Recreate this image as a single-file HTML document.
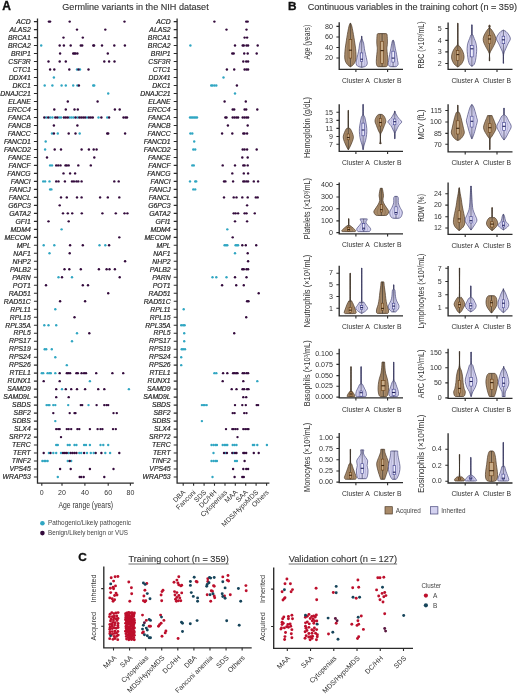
<!DOCTYPE html>
<html><head><meta charset="utf-8"><style>
html,body{margin:0;padding:0;background:#fff;width:520px;height:694px;overflow:hidden}
svg{display:block;font-family:"Liberation Sans",sans-serif}
</style></head><body>
<svg width="520" height="694" viewBox="0 0 520 694" font-family="&quot;Liberation Sans&quot;, sans-serif"><defs><filter id="bl" x="0" y="0" width="1" height="1" color-interpolation-filters="sRGB"><feGaussianBlur stdDeviation="0.3"/></filter></defs><rect width="520" height="694" fill="#fff"/><g filter="url(#bl)"><rect width="520" height="694" fill="#fff"/><text x="2.3" y="10.3" font-size="12" fill="#111" font-weight="bold" stroke="#111" stroke-width="0.35">A</text>
<text x="62.3" y="10.2" font-size="9" fill="#333" textLength="146.4" lengthAdjust="spacingAndGlyphs" stroke="#333" stroke-width="0.12">Germline variants in the NIH dataset</text>
<g stroke="#2b2b2b" stroke-width="1.3" fill="none">
<path d="M37.5,18.6V483.1H133.8"/>
<path d="M177.1,18.6V483.1H269.4"/>
<path stroke-width="1.1" d="M33.9,21.6H37.5M173.7,21.6H177.1M33.9,29.59H37.5M173.7,29.59H177.1M33.9,37.58H37.5M173.7,37.58H177.1M33.9,45.57H37.5M173.7,45.57H177.1M33.9,53.56H37.5M173.7,53.56H177.1M33.9,61.55H37.5M173.7,61.55H177.1M33.9,69.54H37.5M173.7,69.54H177.1M33.9,77.53H37.5M173.7,77.53H177.1M33.9,85.52H37.5M173.7,85.52H177.1M33.9,93.51H37.5M173.7,93.51H177.1M33.9,101.5H37.5M173.7,101.5H177.1M33.9,109.49H37.5M173.7,109.49H177.1M33.9,117.48H37.5M173.7,117.48H177.1M33.9,125.47H37.5M173.7,125.47H177.1M33.9,133.46H37.5M173.7,133.46H177.1M33.9,141.45H37.5M173.7,141.45H177.1M33.9,149.44H37.5M173.7,149.44H177.1M33.9,157.43H37.5M173.7,157.43H177.1M33.9,165.42H37.5M173.7,165.42H177.1M33.9,173.41H37.5M173.7,173.41H177.1M33.9,181.4H37.5M173.7,181.4H177.1M33.9,189.39H37.5M173.7,189.39H177.1M33.9,197.38H37.5M173.7,197.38H177.1M33.9,205.37H37.5M173.7,205.37H177.1M33.9,213.36H37.5M173.7,213.36H177.1M33.9,221.35H37.5M173.7,221.35H177.1M33.9,229.34H37.5M173.7,229.34H177.1M33.9,237.33H37.5M173.7,237.33H177.1M33.9,245.32H37.5M173.7,245.32H177.1M33.9,253.31H37.5M173.7,253.31H177.1M33.9,261.3H37.5M173.7,261.3H177.1M33.9,269.29H37.5M173.7,269.29H177.1M33.9,277.28H37.5M173.7,277.28H177.1M33.9,285.27H37.5M173.7,285.27H177.1M33.9,293.26H37.5M173.7,293.26H177.1M33.9,301.25H37.5M173.7,301.25H177.1M33.9,309.24H37.5M173.7,309.24H177.1M33.9,317.23H37.5M173.7,317.23H177.1M33.9,325.22H37.5M173.7,325.22H177.1M33.9,333.21H37.5M173.7,333.21H177.1M33.9,341.2H37.5M173.7,341.2H177.1M33.9,349.19H37.5M173.7,349.19H177.1M33.9,357.18H37.5M173.7,357.18H177.1M33.9,365.17H37.5M173.7,365.17H177.1M33.9,373.16H37.5M173.7,373.16H177.1M33.9,381.15H37.5M173.7,381.15H177.1M33.9,389.14H37.5M173.7,389.14H177.1M33.9,397.13H37.5M173.7,397.13H177.1M33.9,405.12H37.5M173.7,405.12H177.1M33.9,413.11H37.5M173.7,413.11H177.1M33.9,421.1H37.5M173.7,421.1H177.1M33.9,429.09H37.5M173.7,429.09H177.1M33.9,437.08H37.5M173.7,437.08H177.1M33.9,445.07H37.5M173.7,445.07H177.1M33.9,453.06H37.5M173.7,453.06H177.1M33.9,461.05H37.5M173.7,461.05H177.1M33.9,469.04H37.5M173.7,469.04H177.1M33.9,477.03H37.5M173.7,477.03H177.1"/>
<path stroke-width="1.1" d="M41.8,483.1v2.6M62,483.1v2.6M84.9,483.1v2.6M108.2,483.1v2.6M130.4,483.1v2.6"/>
<path stroke-width="1.1" d="M183.2,483.1v2.6M193.6,483.1v2.6M204.1,483.1v2.6M214.5,483.1v2.6M225,483.1v2.6M235.3,483.1v2.6M245.7,483.1v2.6M256.1,483.1v2.6M266.6,483.1v2.6"/>
</g>
<g transform="translate(30.7,0) scale(1.07,1)" font-style="italic" font-size="6.4" text-anchor="end" fill="#262626" stroke="#262626" stroke-width="0.18">
<text x="0" y="23.9">ACD</text>
<text x="0" y="31.89">ALAS2</text>
<text x="0" y="39.88">BRCA1</text>
<text x="0" y="47.87">BRCA2</text>
<text x="0" y="55.86">BRIP1</text>
<text x="0" y="63.85">CSF3R</text>
<text x="0" y="71.84">CTC1</text>
<text x="0" y="79.83">DDX41</text>
<text x="0" y="87.82">DKC1</text>
<text x="0" y="95.81">DNAJC21</text>
<text x="0" y="103.8">ELANE</text>
<text x="0" y="111.79">ERCC4</text>
<text x="0" y="119.78">FANCA</text>
<text x="0" y="127.77">FANCB</text>
<text x="0" y="135.76">FANCC</text>
<text x="0" y="143.75">FANCD1</text>
<text x="0" y="151.74">FANCD2</text>
<text x="0" y="159.73">FANCE</text>
<text x="0" y="167.72">FANCF</text>
<text x="0" y="175.71">FANCG</text>
<text x="0" y="183.7">FANCI</text>
<text x="0" y="191.69">FANCJ</text>
<text x="0" y="199.68">FANCL</text>
<text x="0" y="207.67">G6PC3</text>
<text x="0" y="215.66">GATA2</text>
<text x="0" y="223.65">GFI1</text>
<text x="0" y="231.64">MDM4</text>
<text x="0" y="239.63">MECOM</text>
<text x="0" y="247.62">MPL</text>
<text x="0" y="255.61">NAF1</text>
<text x="0" y="263.6">NHP2</text>
<text x="0" y="271.59">PALB2</text>
<text x="0" y="279.58">PARN</text>
<text x="0" y="287.57">POT1</text>
<text x="0" y="295.56">RAD51</text>
<text x="0" y="303.55">RAD51C</text>
<text x="0" y="311.54">RPL11</text>
<text x="0" y="319.53">RPL15</text>
<text x="0" y="327.52">RPL35A</text>
<text x="0" y="335.51">RPL5</text>
<text x="0" y="343.5">RPS17</text>
<text x="0" y="351.49">RPS19</text>
<text x="0" y="359.48">RPS24</text>
<text x="0" y="367.47">RPS26</text>
<text x="0" y="375.46">RTEL1</text>
<text x="0" y="383.45">RUNX1</text>
<text x="0" y="391.44">SAMD9</text>
<text x="0" y="399.43">SAMD9L</text>
<text x="0" y="407.42">SBDS</text>
<text x="0" y="415.41">SBF2</text>
<text x="0" y="423.4">SDBS</text>
<text x="0" y="431.39">SLX4</text>
<text x="0" y="439.38">SRP72</text>
<text x="0" y="447.37">TERC</text>
<text x="0" y="455.36">TERT</text>
<text x="0" y="463.35">TINF2</text>
<text x="0" y="471.34">VPS45</text>
<text x="0" y="479.33">WRAP53</text>
</g>
<g transform="translate(170.6,0) scale(1.07,1)" font-style="italic" font-size="6.4" text-anchor="end" fill="#262626" stroke="#262626" stroke-width="0.18">
<text x="0" y="23.9">ACD</text>
<text x="0" y="31.89">ALAS2</text>
<text x="0" y="39.88">BRCA1</text>
<text x="0" y="47.87">BRCA2</text>
<text x="0" y="55.86">BRIP1</text>
<text x="0" y="63.85">CSF3R</text>
<text x="0" y="71.84">CTC1</text>
<text x="0" y="79.83">DDX41</text>
<text x="0" y="87.82">DKC1</text>
<text x="0" y="95.81">DNAJC21</text>
<text x="0" y="103.8">ELANE</text>
<text x="0" y="111.79">ERCC4</text>
<text x="0" y="119.78">FANCA</text>
<text x="0" y="127.77">FANCB</text>
<text x="0" y="135.76">FANCC</text>
<text x="0" y="143.75">FANCD1</text>
<text x="0" y="151.74">FANCD2</text>
<text x="0" y="159.73">FANCE</text>
<text x="0" y="167.72">FANCF</text>
<text x="0" y="175.71">FANCG</text>
<text x="0" y="183.7">FANCI</text>
<text x="0" y="191.69">FANCJ</text>
<text x="0" y="199.68">FANCL</text>
<text x="0" y="207.67">G6PC3</text>
<text x="0" y="215.66">GATA2</text>
<text x="0" y="223.65">GFI1</text>
<text x="0" y="231.64">MDM4</text>
<text x="0" y="239.63">MECOM</text>
<text x="0" y="247.62">MPL</text>
<text x="0" y="255.61">NAF1</text>
<text x="0" y="263.6">NHP2</text>
<text x="0" y="271.59">PALB2</text>
<text x="0" y="279.58">PARN</text>
<text x="0" y="287.57">POT1</text>
<text x="0" y="295.56">RAD51</text>
<text x="0" y="303.55">RAD51C</text>
<text x="0" y="311.54">RPL11</text>
<text x="0" y="319.53">RPL15</text>
<text x="0" y="327.52">RPL35A</text>
<text x="0" y="335.51">RPL5</text>
<text x="0" y="343.5">RPS17</text>
<text x="0" y="351.49">RPS19</text>
<text x="0" y="359.48">RPS24</text>
<text x="0" y="367.47">RPS26</text>
<text x="0" y="375.46">RTEL1</text>
<text x="0" y="383.45">RUNX1</text>
<text x="0" y="391.44">SAMD9</text>
<text x="0" y="399.43">SAMD9L</text>
<text x="0" y="407.42">SBDS</text>
<text x="0" y="415.41">SBF2</text>
<text x="0" y="423.4">SDBS</text>
<text x="0" y="431.39">SLX4</text>
<text x="0" y="439.38">SRP72</text>
<text x="0" y="447.37">TERC</text>
<text x="0" y="455.36">TERT</text>
<text x="0" y="463.35">TINF2</text>
<text x="0" y="471.34">VPS45</text>
<text x="0" y="479.33">WRAP53</text>
</g>
<g font-size="7" fill="#333" text-anchor="middle">
<text x="41.8" y="495">0</text>
<text x="62" y="495">20</text>
<text x="84.9" y="495">40</text>
<text x="108.2" y="495">60</text>
<text x="130.4" y="495">80</text>
</g>
<text x="58.5" y="508.2" font-size="8.8" fill="#333" textLength="54.6" lengthAdjust="spacingAndGlyphs">Age range (years)</text>
<g font-size="6.9" fill="#2e2e2e" text-anchor="end">
<text transform="translate(185.8,492.8) rotate(-45)">DBA</text>
<text transform="translate(196.2,492.8) rotate(-45)">Fanconi</text>
<text transform="translate(206.7,492.8) rotate(-45)">SDS</text>
<text transform="translate(217.1,492.8) rotate(-45)">DC/HH</text>
<text transform="translate(227.6,492.8) rotate(-45)">Cytopenias</text>
<text transform="translate(237.9,492.8) rotate(-45)">MAA</text>
<text transform="translate(248.3,492.8) rotate(-45)">SAA</text>
<text transform="translate(258.7,492.8) rotate(-45)">MDS/HypoMDS</text>
<text transform="translate(269.2,492.8) rotate(-45)">Others</text>
</g>
<g fill="#30a6c2"><circle cx="41.2" cy="45.57" r="1.2"/><circle cx="77" cy="69.54" r="1.2"/><circle cx="80" cy="69.54" r="1.2"/><circle cx="53.9" cy="77.53" r="1.2"/><circle cx="44.7" cy="85.52" r="1.2"/><circle cx="52.4" cy="85.52" r="1.2"/><circle cx="61.6" cy="85.52" r="1.2"/><circle cx="65.8" cy="85.52" r="1.2"/><circle cx="73.2" cy="85.52" r="1.2"/><circle cx="77.4" cy="85.52" r="1.2"/><circle cx="93.2" cy="85.52" r="1.2"/><circle cx="94.2" cy="85.52" r="1.2"/><circle cx="108.2" cy="93.51" r="1.2"/><circle cx="46.2" cy="117.48" r="1.2"/><circle cx="50.1" cy="117.48" r="1.2"/><circle cx="52.4" cy="117.48" r="1.2"/><circle cx="59.1" cy="117.48" r="1.2"/><circle cx="61" cy="117.48" r="1.2"/><circle cx="69.7" cy="117.48" r="1.2"/><circle cx="71.6" cy="117.48" r="1.2"/><circle cx="73.5" cy="117.48" r="1.2"/><circle cx="77.4" cy="117.48" r="1.2"/><circle cx="87" cy="117.48" r="1.2"/><circle cx="98.5" cy="117.48" r="1.2"/><circle cx="107.2" cy="117.48" r="1.2"/><circle cx="52" cy="133.46" r="1.2"/><circle cx="57.8" cy="133.46" r="1.2"/><circle cx="79.7" cy="133.46" r="1.2"/><circle cx="45.7" cy="141.45" r="1.2"/><circle cx="45.1" cy="149.44" r="1.2"/><circle cx="50.1" cy="165.42" r="1.2"/><circle cx="52" cy="165.42" r="1.2"/><circle cx="43.2" cy="181.4" r="1.2"/><circle cx="45.1" cy="181.4" r="1.2"/><circle cx="49.5" cy="181.4" r="1.2"/><circle cx="50.1" cy="189.39" r="1.2"/><circle cx="51.4" cy="189.39" r="1.2"/><circle cx="61.6" cy="229.34" r="1.2"/><circle cx="43.7" cy="245.32" r="1.2"/><circle cx="54.3" cy="245.32" r="1.2"/><circle cx="99.5" cy="245.32" r="1.2"/><circle cx="105.3" cy="245.32" r="1.2"/><circle cx="49.5" cy="253.31" r="1.2"/><circle cx="58.5" cy="277.28" r="1.2"/><circle cx="72" cy="277.28" r="1.2"/><circle cx="55.3" cy="309.24" r="1.2"/><circle cx="44.3" cy="325.22" r="1.2"/><circle cx="48.5" cy="325.22" r="1.2"/><circle cx="56.2" cy="325.22" r="1.2"/><circle cx="77" cy="333.21" r="1.2"/><circle cx="72" cy="341.2" r="1.2"/><circle cx="44.7" cy="349.19" r="1.2"/><circle cx="46.2" cy="349.19" r="1.2"/><circle cx="51.8" cy="349.19" r="1.2"/><circle cx="55.3" cy="357.18" r="1.2"/><circle cx="66.8" cy="365.17" r="1.2"/><circle cx="41.8" cy="373.16" r="1.2"/><circle cx="43.2" cy="373.16" r="1.2"/><circle cx="47.6" cy="373.16" r="1.2"/><circle cx="49.5" cy="373.16" r="1.2"/><circle cx="50.8" cy="373.16" r="1.2"/><circle cx="55.3" cy="373.16" r="1.2"/><circle cx="89.9" cy="381.15" r="1.2"/><circle cx="62" cy="389.14" r="1.2"/><circle cx="128.9" cy="389.14" r="1.2"/><circle cx="46.6" cy="405.12" r="1.2"/><circle cx="48.2" cy="405.12" r="1.2"/><circle cx="49.5" cy="405.12" r="1.2"/><circle cx="53.3" cy="405.12" r="1.2"/><circle cx="55.3" cy="405.12" r="1.2"/><circle cx="68.2" cy="405.12" r="1.2"/><circle cx="88.5" cy="405.12" r="1.2"/><circle cx="55.3" cy="421.1" r="1.2"/><circle cx="56.2" cy="445.07" r="1.2"/><circle cx="57.8" cy="445.07" r="1.2"/><circle cx="67.8" cy="445.07" r="1.2"/><circle cx="69.7" cy="445.07" r="1.2"/><circle cx="74.5" cy="445.07" r="1.2"/><circle cx="76.4" cy="445.07" r="1.2"/><circle cx="84.1" cy="445.07" r="1.2"/><circle cx="86" cy="445.07" r="1.2"/><circle cx="89.9" cy="445.07" r="1.2"/><circle cx="100.5" cy="445.07" r="1.2"/><circle cx="103.3" cy="445.07" r="1.2"/><circle cx="108.2" cy="445.07" r="1.2"/><circle cx="48.9" cy="453.06" r="1.2"/><circle cx="53.3" cy="453.06" r="1.2"/><circle cx="56.2" cy="453.06" r="1.2"/><circle cx="61" cy="453.06" r="1.2"/><circle cx="68.7" cy="453.06" r="1.2"/><circle cx="79.3" cy="453.06" r="1.2"/><circle cx="81.2" cy="453.06" r="1.2"/><circle cx="87" cy="453.06" r="1.2"/><circle cx="90.8" cy="453.06" r="1.2"/><circle cx="93.7" cy="453.06" r="1.2"/><circle cx="105.3" cy="453.06" r="1.2"/><circle cx="110.1" cy="453.06" r="1.2"/><circle cx="42.4" cy="461.05" r="1.2"/><circle cx="44.3" cy="461.05" r="1.2"/><circle cx="45.7" cy="461.05" r="1.2"/><circle cx="47.6" cy="461.05" r="1.2"/><circle cx="67.8" cy="461.05" r="1.2"/><circle cx="71.2" cy="461.05" r="1.2"/><circle cx="57.8" cy="477.03" r="1.2"/></g>
<g fill="#330a3c"><circle cx="48.9" cy="21.6" r="1.2"/><circle cx="50.1" cy="21.6" r="1.2"/><circle cx="69.7" cy="21.6" r="1.2"/><circle cx="124.5" cy="21.6" r="1.2"/><circle cx="77" cy="29.59" r="1.2"/><circle cx="105.3" cy="29.59" r="1.2"/><circle cx="63.5" cy="37.58" r="1.2"/><circle cx="82.8" cy="37.58" r="1.2"/><circle cx="59.7" cy="45.57" r="1.2"/><circle cx="63.9" cy="45.57" r="1.2"/><circle cx="70.7" cy="45.57" r="1.2"/><circle cx="80.8" cy="45.57" r="1.2"/><circle cx="82.2" cy="45.57" r="1.2"/><circle cx="93.3" cy="45.57" r="1.2"/><circle cx="94.1" cy="45.57" r="1.2"/><circle cx="102" cy="45.57" r="1.2"/><circle cx="114.3" cy="45.57" r="1.2"/><circle cx="124.9" cy="45.57" r="1.2"/><circle cx="60.1" cy="53.56" r="1.2"/><circle cx="73.2" cy="53.56" r="1.2"/><circle cx="74.4" cy="53.56" r="1.2"/><circle cx="75.5" cy="53.56" r="1.2"/><circle cx="77.4" cy="53.56" r="1.2"/><circle cx="107.8" cy="53.56" r="1.2"/><circle cx="48.5" cy="61.55" r="1.2"/><circle cx="59.7" cy="61.55" r="1.2"/><circle cx="65.8" cy="61.55" r="1.2"/><circle cx="104.3" cy="61.55" r="1.2"/><circle cx="109.1" cy="61.55" r="1.2"/><circle cx="114.5" cy="61.55" r="1.2"/><circle cx="50.1" cy="69.54" r="1.2"/><circle cx="54.3" cy="69.54" r="1.2"/><circle cx="69.3" cy="69.54" r="1.2"/><circle cx="78.5" cy="69.54" r="1.2"/><circle cx="88.5" cy="69.54" r="1.2"/><circle cx="78.9" cy="85.52" r="1.2"/><circle cx="67.8" cy="101.5" r="1.2"/><circle cx="97.6" cy="101.5" r="1.2"/><circle cx="54.3" cy="109.49" r="1.2"/><circle cx="65.8" cy="109.49" r="1.2"/><circle cx="74.5" cy="109.49" r="1.2"/><circle cx="77.8" cy="109.49" r="1.2"/><circle cx="114.9" cy="109.49" r="1.2"/><circle cx="119.7" cy="109.49" r="1.2"/><circle cx="44.3" cy="117.48" r="1.2"/><circle cx="48.2" cy="117.48" r="1.2"/><circle cx="55.3" cy="117.48" r="1.2"/><circle cx="57.2" cy="117.48" r="1.2"/><circle cx="63.9" cy="117.48" r="1.2"/><circle cx="65.8" cy="117.48" r="1.2"/><circle cx="67.8" cy="117.48" r="1.2"/><circle cx="75.5" cy="117.48" r="1.2"/><circle cx="79.3" cy="117.48" r="1.2"/><circle cx="81.2" cy="117.48" r="1.2"/><circle cx="83.2" cy="117.48" r="1.2"/><circle cx="85.1" cy="117.48" r="1.2"/><circle cx="88.9" cy="117.48" r="1.2"/><circle cx="90.8" cy="117.48" r="1.2"/><circle cx="92.8" cy="117.48" r="1.2"/><circle cx="101.4" cy="117.48" r="1.2"/><circle cx="109.1" cy="117.48" r="1.2"/><circle cx="123.5" cy="117.48" r="1.2"/><circle cx="125.5" cy="117.48" r="1.2"/><circle cx="127" cy="117.48" r="1.2"/><circle cx="53.9" cy="125.47" r="1.2"/><circle cx="77.4" cy="125.47" r="1.2"/><circle cx="53.9" cy="133.46" r="1.2"/><circle cx="68.7" cy="133.46" r="1.2"/><circle cx="75.5" cy="133.46" r="1.2"/><circle cx="107.2" cy="133.46" r="1.2"/><circle cx="108.2" cy="133.46" r="1.2"/><circle cx="125.1" cy="133.46" r="1.2"/><circle cx="54.7" cy="149.44" r="1.2"/><circle cx="61" cy="149.44" r="1.2"/><circle cx="81.6" cy="149.44" r="1.2"/><circle cx="88.9" cy="149.44" r="1.2"/><circle cx="93.7" cy="149.44" r="1.2"/><circle cx="96.6" cy="149.44" r="1.2"/><circle cx="47" cy="157.43" r="1.2"/><circle cx="94.3" cy="157.43" r="1.2"/><circle cx="56.2" cy="165.42" r="1.2"/><circle cx="58.2" cy="165.42" r="1.2"/><circle cx="60.5" cy="165.42" r="1.2"/><circle cx="65.5" cy="165.42" r="1.2"/><circle cx="66.8" cy="165.42" r="1.2"/><circle cx="68.7" cy="165.42" r="1.2"/><circle cx="78.3" cy="165.42" r="1.2"/><circle cx="90.8" cy="165.42" r="1.2"/><circle cx="63.5" cy="173.41" r="1.2"/><circle cx="70.1" cy="173.41" r="1.2"/><circle cx="75.1" cy="173.41" r="1.2"/><circle cx="56.2" cy="181.4" r="1.2"/><circle cx="58.5" cy="181.4" r="1.2"/><circle cx="64.9" cy="181.4" r="1.2"/><circle cx="72" cy="181.4" r="1.2"/><circle cx="73.9" cy="181.4" r="1.2"/><circle cx="76.4" cy="181.4" r="1.2"/><circle cx="78.3" cy="181.4" r="1.2"/><circle cx="81.6" cy="181.4" r="1.2"/><circle cx="114.3" cy="181.4" r="1.2"/><circle cx="118.7" cy="181.4" r="1.2"/><circle cx="61" cy="197.38" r="1.2"/><circle cx="66.8" cy="197.38" r="1.2"/><circle cx="77" cy="197.38" r="1.2"/><circle cx="81.6" cy="197.38" r="1.2"/><circle cx="100.1" cy="197.38" r="1.2"/><circle cx="107.8" cy="197.38" r="1.2"/><circle cx="119.3" cy="197.38" r="1.2"/><circle cx="59.7" cy="205.37" r="1.2"/><circle cx="63" cy="213.36" r="1.2"/><circle cx="67.8" cy="213.36" r="1.2"/><circle cx="72.2" cy="213.36" r="1.2"/><circle cx="81.8" cy="213.36" r="1.2"/><circle cx="102.4" cy="213.36" r="1.2"/><circle cx="115.8" cy="213.36" r="1.2"/><circle cx="124.5" cy="213.36" r="1.2"/><circle cx="127.4" cy="213.36" r="1.2"/><circle cx="48.5" cy="221.35" r="1.2"/><circle cx="68.7" cy="221.35" r="1.2"/><circle cx="119.3" cy="237.33" r="1.2"/><circle cx="70.1" cy="245.32" r="1.2"/><circle cx="82.8" cy="245.32" r="1.2"/><circle cx="109.1" cy="245.32" r="1.2"/><circle cx="69.7" cy="253.31" r="1.2"/><circle cx="125.1" cy="261.3" r="1.2"/><circle cx="64.5" cy="269.29" r="1.2"/><circle cx="69.3" cy="269.29" r="1.2"/><circle cx="80.8" cy="269.29" r="1.2"/><circle cx="98.9" cy="269.29" r="1.2"/><circle cx="106.6" cy="269.29" r="1.2"/><circle cx="109.5" cy="269.29" r="1.2"/><circle cx="114.9" cy="269.29" r="1.2"/><circle cx="62" cy="277.28" r="1.2"/><circle cx="119.7" cy="277.28" r="1.2"/><circle cx="46" cy="285.27" r="1.2"/><circle cx="82.8" cy="285.27" r="1.2"/><circle cx="88" cy="285.27" r="1.2"/><circle cx="108.2" cy="293.26" r="1.2"/><circle cx="60.1" cy="301.25" r="1.2"/><circle cx="85.1" cy="301.25" r="1.2"/><circle cx="74.5" cy="317.23" r="1.2"/><circle cx="89.3" cy="333.21" r="1.2"/><circle cx="59.7" cy="373.16" r="1.2"/><circle cx="66.8" cy="373.16" r="1.2"/><circle cx="68.2" cy="373.16" r="1.2"/><circle cx="70.1" cy="373.16" r="1.2"/><circle cx="76.4" cy="373.16" r="1.2"/><circle cx="77.8" cy="373.16" r="1.2"/><circle cx="81.6" cy="373.16" r="1.2"/><circle cx="84.1" cy="373.16" r="1.2"/><circle cx="86" cy="373.16" r="1.2"/><circle cx="96.2" cy="373.16" r="1.2"/><circle cx="112.4" cy="373.16" r="1.2"/><circle cx="123.2" cy="373.16" r="1.2"/><circle cx="43.7" cy="381.15" r="1.2"/><circle cx="59.7" cy="381.15" r="1.2"/><circle cx="56.2" cy="389.14" r="1.2"/><circle cx="65.8" cy="389.14" r="1.2"/><circle cx="71.2" cy="389.14" r="1.2"/><circle cx="77" cy="389.14" r="1.2"/><circle cx="85.1" cy="389.14" r="1.2"/><circle cx="98.2" cy="389.14" r="1.2"/><circle cx="104.3" cy="389.14" r="1.2"/><circle cx="56.2" cy="397.13" r="1.2"/><circle cx="68.7" cy="397.13" r="1.2"/><circle cx="80.8" cy="405.12" r="1.2"/><circle cx="82.2" cy="405.12" r="1.2"/><circle cx="96.6" cy="405.12" r="1.2"/><circle cx="104.3" cy="405.12" r="1.2"/><circle cx="106.6" cy="405.12" r="1.2"/><circle cx="108.2" cy="405.12" r="1.2"/><circle cx="53.3" cy="413.11" r="1.2"/><circle cx="69.7" cy="413.11" r="1.2"/><circle cx="74.5" cy="413.11" r="1.2"/><circle cx="75.5" cy="413.11" r="1.2"/><circle cx="113.5" cy="413.11" r="1.2"/><circle cx="116.8" cy="413.11" r="1.2"/><circle cx="56.2" cy="429.09" r="1.2"/><circle cx="58.2" cy="429.09" r="1.2"/><circle cx="59.7" cy="429.09" r="1.2"/><circle cx="66.8" cy="429.09" r="1.2"/><circle cx="68.7" cy="429.09" r="1.2"/><circle cx="71.2" cy="429.09" r="1.2"/><circle cx="77.4" cy="429.09" r="1.2"/><circle cx="79.3" cy="429.09" r="1.2"/><circle cx="89.9" cy="429.09" r="1.2"/><circle cx="97.6" cy="429.09" r="1.2"/><circle cx="100.5" cy="429.09" r="1.2"/><circle cx="102.4" cy="429.09" r="1.2"/><circle cx="113" cy="429.09" r="1.2"/><circle cx="115.8" cy="429.09" r="1.2"/><circle cx="61" cy="437.08" r="1.2"/><circle cx="43.7" cy="453.06" r="1.2"/><circle cx="50.5" cy="453.06" r="1.2"/><circle cx="63" cy="453.06" r="1.2"/><circle cx="64.9" cy="453.06" r="1.2"/><circle cx="66.8" cy="453.06" r="1.2"/><circle cx="70.7" cy="453.06" r="1.2"/><circle cx="72.6" cy="453.06" r="1.2"/><circle cx="74.5" cy="453.06" r="1.2"/><circle cx="76.4" cy="453.06" r="1.2"/><circle cx="84.1" cy="453.06" r="1.2"/><circle cx="95.7" cy="453.06" r="1.2"/><circle cx="101.4" cy="453.06" r="1.2"/><circle cx="119.3" cy="453.06" r="1.2"/><circle cx="69.7" cy="461.05" r="1.2"/><circle cx="60.1" cy="469.04" r="1.2"/><circle cx="70.7" cy="469.04" r="1.2"/><circle cx="89.9" cy="469.04" r="1.2"/><circle cx="113.5" cy="469.04" r="1.2"/><circle cx="79.7" cy="477.03" r="1.2"/><circle cx="81.2" cy="477.03" r="1.2"/><circle cx="83.7" cy="477.03" r="1.2"/><circle cx="104.3" cy="477.03" r="1.2"/></g>
<g fill="#30a6c2"><circle cx="190.4" cy="45.57" r="1.2"/><circle cx="223.5" cy="77.53" r="1.2"/><circle cx="211.2" cy="85.52" r="1.2"/><circle cx="212.5" cy="85.52" r="1.2"/><circle cx="214.4" cy="85.52" r="1.2"/><circle cx="216.3" cy="85.52" r="1.2"/><circle cx="235" cy="93.51" r="1.2"/><circle cx="190" cy="117.48" r="1.2"/><circle cx="191.4" cy="117.48" r="1.2"/><circle cx="192.8" cy="117.48" r="1.2"/><circle cx="194.2" cy="117.48" r="1.2"/><circle cx="195.6" cy="117.48" r="1.2"/><circle cx="197" cy="117.48" r="1.2"/><circle cx="190.4" cy="133.46" r="1.2"/><circle cx="192.3" cy="133.46" r="1.2"/><circle cx="194.2" cy="141.45" r="1.2"/><circle cx="193.3" cy="149.44" r="1.2"/><circle cx="195.2" cy="149.44" r="1.2"/><circle cx="192.3" cy="165.42" r="1.2"/><circle cx="193.8" cy="165.42" r="1.2"/><circle cx="190" cy="181.4" r="1.2"/><circle cx="195.2" cy="181.4" r="1.2"/><circle cx="196.2" cy="181.4" r="1.2"/><circle cx="193.3" cy="189.39" r="1.2"/><circle cx="195.2" cy="189.39" r="1.2"/><circle cx="227.3" cy="229.34" r="1.2"/><circle cx="224.6" cy="245.32" r="1.2"/><circle cx="226" cy="245.32" r="1.2"/><circle cx="227.3" cy="245.32" r="1.2"/><circle cx="235.6" cy="245.32" r="1.2"/><circle cx="236.9" cy="245.32" r="1.2"/><circle cx="238.1" cy="245.32" r="1.2"/><circle cx="235" cy="253.31" r="1.2"/><circle cx="212.5" cy="277.28" r="1.2"/><circle cx="216.3" cy="277.28" r="1.2"/><circle cx="226.5" cy="277.28" r="1.2"/><circle cx="183.7" cy="309.24" r="1.2"/><circle cx="181.2" cy="325.22" r="1.2"/><circle cx="183.1" cy="325.22" r="1.2"/><circle cx="184.6" cy="325.22" r="1.2"/><circle cx="184.2" cy="333.21" r="1.2"/><circle cx="184.2" cy="341.2" r="1.2"/><circle cx="181.7" cy="349.19" r="1.2"/><circle cx="183.1" cy="349.19" r="1.2"/><circle cx="185" cy="349.19" r="1.2"/><circle cx="181.2" cy="357.18" r="1.2"/><circle cx="181.2" cy="365.17" r="1.2"/><circle cx="214.4" cy="373.16" r="1.2"/><circle cx="216.3" cy="373.16" r="1.2"/><circle cx="257.3" cy="381.15" r="1.2"/><circle cx="201.9" cy="405.12" r="1.2"/><circle cx="203.5" cy="405.12" r="1.2"/><circle cx="204.8" cy="405.12" r="1.2"/><circle cx="206.7" cy="405.12" r="1.2"/><circle cx="201.9" cy="421.1" r="1.2"/><circle cx="211.5" cy="445.07" r="1.2"/><circle cx="213.5" cy="445.07" r="1.2"/><circle cx="215.4" cy="445.07" r="1.2"/><circle cx="216.9" cy="445.07" r="1.2"/><circle cx="222.7" cy="445.07" r="1.2"/><circle cx="224.6" cy="445.07" r="1.2"/><circle cx="226" cy="445.07" r="1.2"/><circle cx="227.3" cy="445.07" r="1.2"/><circle cx="232.7" cy="445.07" r="1.2"/><circle cx="234.6" cy="445.07" r="1.2"/><circle cx="236.5" cy="445.07" r="1.2"/><circle cx="252.9" cy="445.07" r="1.2"/><circle cx="254.2" cy="445.07" r="1.2"/><circle cx="257.3" cy="445.07" r="1.2"/><circle cx="266.9" cy="445.07" r="1.2"/><circle cx="213.5" cy="453.06" r="1.2"/><circle cx="225.4" cy="453.06" r="1.2"/><circle cx="233.7" cy="453.06" r="1.2"/><circle cx="211.5" cy="461.05" r="1.2"/><circle cx="213.5" cy="461.05" r="1.2"/><circle cx="215.4" cy="461.05" r="1.2"/><circle cx="216.9" cy="461.05" r="1.2"/><circle cx="235" cy="461.05" r="1.2"/><circle cx="236.9" cy="461.05" r="1.2"/><circle cx="212.5" cy="477.03" r="1.2"/></g>
<g fill="#330a3c"><circle cx="214.4" cy="21.6" r="1.2"/><circle cx="246.2" cy="21.6" r="1.2"/><circle cx="247.7" cy="21.6" r="1.2"/><circle cx="226.5" cy="29.59" r="1.2"/><circle cx="246.5" cy="29.59" r="1.2"/><circle cx="244.6" cy="37.58" r="1.2"/><circle cx="247.1" cy="37.58" r="1.2"/><circle cx="235" cy="45.57" r="1.2"/><circle cx="242.7" cy="45.57" r="1.2"/><circle cx="243.8" cy="45.57" r="1.2"/><circle cx="246.5" cy="45.57" r="1.2"/><circle cx="248.1" cy="45.57" r="1.2"/><circle cx="257.7" cy="45.57" r="1.2"/><circle cx="232.3" cy="53.56" r="1.2"/><circle cx="233.7" cy="53.56" r="1.2"/><circle cx="244.2" cy="53.56" r="1.2"/><circle cx="247.7" cy="53.56" r="1.2"/><circle cx="256.7" cy="53.56" r="1.2"/><circle cx="243.3" cy="61.55" r="1.2"/><circle cx="246.2" cy="61.55" r="1.2"/><circle cx="248.1" cy="61.55" r="1.2"/><circle cx="226.9" cy="69.54" r="1.2"/><circle cx="234.2" cy="69.54" r="1.2"/><circle cx="244.6" cy="69.54" r="1.2"/><circle cx="246.5" cy="69.54" r="1.2"/><circle cx="248.1" cy="69.54" r="1.2"/><circle cx="236.9" cy="85.52" r="1.2"/><circle cx="224.6" cy="101.5" r="1.2"/><circle cx="245.8" cy="101.5" r="1.2"/><circle cx="232.7" cy="109.49" r="1.2"/><circle cx="234.2" cy="109.49" r="1.2"/><circle cx="244.6" cy="109.49" r="1.2"/><circle cx="246.2" cy="109.49" r="1.2"/><circle cx="257.3" cy="109.49" r="1.2"/><circle cx="225.4" cy="117.48" r="1.2"/><circle cx="226.5" cy="117.48" r="1.2"/><circle cx="232.7" cy="117.48" r="1.2"/><circle cx="234.6" cy="117.48" r="1.2"/><circle cx="236.5" cy="117.48" r="1.2"/><circle cx="238.1" cy="117.48" r="1.2"/><circle cx="242.7" cy="117.48" r="1.2"/><circle cx="244.6" cy="117.48" r="1.2"/><circle cx="246.5" cy="117.48" r="1.2"/><circle cx="248.1" cy="117.48" r="1.2"/><circle cx="227.9" cy="125.47" r="1.2"/><circle cx="247.7" cy="125.47" r="1.2"/><circle cx="222.1" cy="133.46" r="1.2"/><circle cx="232.3" cy="133.46" r="1.2"/><circle cx="243.3" cy="133.46" r="1.2"/><circle cx="244.6" cy="133.46" r="1.2"/><circle cx="247.1" cy="133.46" r="1.2"/><circle cx="242.7" cy="149.44" r="1.2"/><circle cx="244.6" cy="149.44" r="1.2"/><circle cx="247.1" cy="149.44" r="1.2"/><circle cx="256.7" cy="149.44" r="1.2"/><circle cx="242.3" cy="157.43" r="1.2"/><circle cx="247.7" cy="157.43" r="1.2"/><circle cx="222.7" cy="165.42" r="1.2"/><circle cx="235" cy="165.42" r="1.2"/><circle cx="243.3" cy="165.42" r="1.2"/><circle cx="244.6" cy="165.42" r="1.2"/><circle cx="247.7" cy="165.42" r="1.2"/><circle cx="232.3" cy="173.41" r="1.2"/><circle cx="243.8" cy="173.41" r="1.2"/><circle cx="248.1" cy="173.41" r="1.2"/><circle cx="224" cy="181.4" r="1.2"/><circle cx="225.4" cy="181.4" r="1.2"/><circle cx="233.1" cy="181.4" r="1.2"/><circle cx="243.3" cy="181.4" r="1.2"/><circle cx="244.6" cy="181.4" r="1.2"/><circle cx="246.5" cy="181.4" r="1.2"/><circle cx="248.1" cy="181.4" r="1.2"/><circle cx="253.8" cy="181.4" r="1.2"/><circle cx="258.1" cy="181.4" r="1.2"/><circle cx="224" cy="197.38" r="1.2"/><circle cx="233.7" cy="197.38" r="1.2"/><circle cx="236.5" cy="197.38" r="1.2"/><circle cx="242.3" cy="197.38" r="1.2"/><circle cx="247.7" cy="197.38" r="1.2"/><circle cx="255.8" cy="197.38" r="1.2"/><circle cx="257.7" cy="197.38" r="1.2"/><circle cx="247.1" cy="205.37" r="1.2"/><circle cx="233.7" cy="213.36" r="1.2"/><circle cx="235.6" cy="213.36" r="1.2"/><circle cx="238.1" cy="213.36" r="1.2"/><circle cx="244.6" cy="213.36" r="1.2"/><circle cx="246.5" cy="213.36" r="1.2"/><circle cx="254.8" cy="213.36" r="1.2"/><circle cx="235" cy="221.35" r="1.2"/><circle cx="247.1" cy="221.35" r="1.2"/><circle cx="232.7" cy="237.33" r="1.2"/><circle cx="242.3" cy="245.32" r="1.2"/><circle cx="245.8" cy="245.32" r="1.2"/><circle cx="256.2" cy="245.32" r="1.2"/><circle cx="247.7" cy="253.31" r="1.2"/><circle cx="248.1" cy="261.3" r="1.2"/><circle cx="242.3" cy="269.29" r="1.2"/><circle cx="243.8" cy="269.29" r="1.2"/><circle cx="246.5" cy="269.29" r="1.2"/><circle cx="248.1" cy="269.29" r="1.2"/><circle cx="235" cy="277.28" r="1.2"/><circle cx="246.5" cy="277.28" r="1.2"/><circle cx="222.1" cy="285.27" r="1.2"/><circle cx="236.2" cy="285.27" r="1.2"/><circle cx="243.8" cy="285.27" r="1.2"/><circle cx="258.7" cy="293.26" r="1.2"/><circle cx="247.1" cy="301.25" r="1.2"/><circle cx="248.5" cy="301.25" r="1.2"/><circle cx="246.2" cy="317.23" r="1.2"/><circle cx="234.2" cy="333.21" r="1.2"/><circle cx="223.1" cy="373.16" r="1.2"/><circle cx="227.3" cy="373.16" r="1.2"/><circle cx="233.1" cy="373.16" r="1.2"/><circle cx="234.6" cy="373.16" r="1.2"/><circle cx="236.2" cy="373.16" r="1.2"/><circle cx="237.5" cy="373.16" r="1.2"/><circle cx="242.7" cy="373.16" r="1.2"/><circle cx="244.2" cy="373.16" r="1.2"/><circle cx="246.5" cy="373.16" r="1.2"/><circle cx="248.1" cy="373.16" r="1.2"/><circle cx="222.7" cy="381.15" r="1.2"/><circle cx="243.3" cy="381.15" r="1.2"/><circle cx="231.7" cy="389.14" r="1.2"/><circle cx="236.5" cy="389.14" r="1.2"/><circle cx="242.7" cy="389.14" r="1.2"/><circle cx="244.2" cy="389.14" r="1.2"/><circle cx="247.1" cy="389.14" r="1.2"/><circle cx="248.5" cy="389.14" r="1.2"/><circle cx="243.3" cy="397.13" r="1.2"/><circle cx="246.2" cy="397.13" r="1.2"/><circle cx="235" cy="405.12" r="1.2"/><circle cx="242.3" cy="405.12" r="1.2"/><circle cx="245.8" cy="405.12" r="1.2"/><circle cx="256.7" cy="405.12" r="1.2"/><circle cx="258.1" cy="405.12" r="1.2"/><circle cx="232.7" cy="413.11" r="1.2"/><circle cx="234.6" cy="413.11" r="1.2"/><circle cx="244.2" cy="413.11" r="1.2"/><circle cx="246.5" cy="413.11" r="1.2"/><circle cx="226" cy="429.09" r="1.2"/><circle cx="232.3" cy="429.09" r="1.2"/><circle cx="233.7" cy="429.09" r="1.2"/><circle cx="235.6" cy="429.09" r="1.2"/><circle cx="237.5" cy="429.09" r="1.2"/><circle cx="243.3" cy="429.09" r="1.2"/><circle cx="245.2" cy="429.09" r="1.2"/><circle cx="247.1" cy="429.09" r="1.2"/><circle cx="248.5" cy="429.09" r="1.2"/><circle cx="237.5" cy="437.08" r="1.2"/><circle cx="224" cy="453.06" r="1.2"/><circle cx="226.9" cy="453.06" r="1.2"/><circle cx="232.3" cy="453.06" r="1.2"/><circle cx="235" cy="453.06" r="1.2"/><circle cx="236.5" cy="453.06" r="1.2"/><circle cx="243.3" cy="453.06" r="1.2"/><circle cx="244.6" cy="453.06" r="1.2"/><circle cx="246.2" cy="453.06" r="1.2"/><circle cx="253.8" cy="453.06" r="1.2"/><circle cx="258.7" cy="453.06" r="1.2"/><circle cx="244.6" cy="461.05" r="1.2"/><circle cx="233.1" cy="469.04" r="1.2"/><circle cx="243.3" cy="469.04" r="1.2"/><circle cx="246.2" cy="469.04" r="1.2"/><circle cx="248.1" cy="469.04" r="1.2"/><circle cx="234.6" cy="477.03" r="1.2"/><circle cx="242.3" cy="477.03" r="1.2"/><circle cx="243.8" cy="477.03" r="1.2"/></g>
<circle cx="42.4" cy="523.2" r="2.3" fill="#30a6c2"/>
<circle cx="42.4" cy="533.1" r="2.3" fill="#330a3c"/>
<text x="48" y="525.4" font-size="6.4" fill="#444" textLength="83" lengthAdjust="spacingAndGlyphs">Pathogenic/Likely pathogenic</text>
<text x="48" y="535.4" font-size="6.4" fill="#444" textLength="80" lengthAdjust="spacingAndGlyphs">Benign/Likely benign or VUS</text>
<text x="287.9" y="10.2" font-size="11.8" fill="#111" font-weight="bold" stroke="#111" stroke-width="0.35">B</text>
<text x="307.7" y="10.2" font-size="9" fill="#333" textLength="209.4" lengthAdjust="spacingAndGlyphs" stroke="#333" stroke-width="0.12">Continuous variables in the training cohort (n = 359)</text>
<path d="M339.2,22.3V69.3H403.0" fill="none" stroke="#2b2b2b" stroke-width="1.35"/>
<path d="M336.4,26.4H339.2M336.4,37H339.2M336.4,47.5H339.2M336.4,58H339.2M355.9,69.3v2.6M387.6,69.3v2.6" stroke="#2b2b2b" stroke-width="1.1"/>
<g font-size="7.1" fill="#333" text-anchor="end"><text x="332.9" y="28.6">80</text><text x="332.9" y="39.2">60</text><text x="332.9" y="49.7">40</text><text x="332.9" y="60.2">20</text></g>
<text transform="translate(310.1,42.1) rotate(-90)" font-size="8.2" fill="#333" text-anchor="middle" textLength="34.6" lengthAdjust="spacingAndGlyphs">Age (years)</text>
<g font-size="6.8" fill="#333" text-anchor="middle"><text x="355.9" y="82.7">Cluster A</text><text x="387.6" y="82.7">Cluster B</text></g>
<path d="M350.6,23.2C350.8,23.67 351.29,24.31 351.7,25.8C352.11,27.29 352.5,29.43 352.9,31.5C353.3,33.57 353.56,35.21 353.9,37.3C354.24,39.39 354.49,41.03 354.8,43.1C355.11,45.17 355.37,46.73 355.6,48.8C355.82,50.87 356,52.73 356.05,54.6C356.1,56.47 356.14,57.74 355.9,59.2C355.66,60.66 355.33,61.55 354.7,62.7C354.07,63.85 353.14,64.88 352.4,65.6C351.66,66.32 350.92,66.5 350.6,66.7L350.2,66.7C349.88,66.5 349.14,66.32 348.4,65.6C347.66,64.88 346.73,63.85 346.1,62.7C345.47,61.55 345.14,60.66 344.9,59.2C344.66,57.74 344.7,56.47 344.75,54.6C344.8,52.73 344.97,50.87 345.2,48.8C345.43,46.73 345.69,45.17 346,43.1C346.31,41.03 346.56,39.39 346.9,37.3C347.24,35.21 347.5,33.57 347.9,31.5C348.3,29.43 348.69,27.29 349.1,25.8C349.51,24.31 350,23.67 350.2,23.2Z" fill="#a88a69" stroke="#4a3826" stroke-width="0.7" stroke-linejoin="round"/>
<path d="M350.51,23.2C350.62,23.67 350.89,24.31 351.12,25.8C351.34,27.29 351.56,29.43 351.77,31.5C351.99,33.57 352.14,35.21 352.32,37.3C352.51,39.39 352.65,41.03 352.82,43.1C352.99,45.17 353.14,46.73 353.26,48.8C353.38,50.87 353.48,52.73 353.51,54.6C353.54,56.47 353.56,57.74 353.42,59.2C353.29,60.66 353.11,61.55 352.76,62.7C352.42,63.85 351.91,64.88 351.5,65.6C351.09,66.32 350.69,66.5 350.51,66.7L350.29,66.7C350.11,66.5 349.71,66.32 349.3,65.6C348.89,64.88 348.38,63.85 348.03,62.7C347.69,61.55 347.51,60.66 347.38,59.2C347.24,57.74 347.26,56.47 347.29,54.6C347.32,52.73 347.42,50.87 347.54,48.8C347.66,46.73 347.81,45.17 347.98,43.1C348.15,41.03 348.29,39.39 348.47,37.3C348.66,35.21 348.81,33.57 349.02,31.5C349.24,29.43 349.46,27.29 349.68,25.8C349.91,24.31 350.18,23.67 350.29,23.2Z" fill="none" stroke="#4a3826" stroke-width="0.35" stroke-opacity="0.6"/>
<path d="M350.4,23.2V66.7" stroke="#2e2a26" stroke-width="0.6"/>
<rect x="349.1" y="39.6" width="2.6" height="18.5" fill="#c9ad89" stroke="#6a3f14" stroke-width="0.6"/>
<path d="M348.9,50.2H351.9" stroke="#3a2410" stroke-width="1.1"/>
<path d="M361.9,36.2C361.9,36.61 361.61,37.26 361.92,38.5C362.23,39.74 363.15,41.25 363.6,43.1C364.05,44.95 364.04,46.73 364.4,48.8C364.76,50.87 365.15,52.51 365.6,54.6C366.05,56.69 366.61,58.74 366.9,60.4C367.19,62.06 367.42,62.76 367.2,63.8C366.98,64.84 366.65,65.57 365.7,66.2C364.75,66.83 362.58,67.1 361.9,67.3L361.5,67.3C360.82,67.1 358.65,66.83 357.7,66.2C356.75,65.57 356.42,64.84 356.2,63.8C355.98,62.76 356.21,62.06 356.5,60.4C356.79,58.74 357.35,56.69 357.8,54.6C358.25,52.51 358.64,50.87 359,48.8C359.36,46.73 359.35,44.95 359.8,43.1C360.25,41.25 361.17,39.74 361.48,38.5C361.79,37.26 361.5,36.61 361.5,36.2Z" fill="#d4d2f0" stroke="#46467a" stroke-width="0.7" stroke-linejoin="round"/>
<path d="M361.81,36.2C361.81,36.61 361.65,37.26 361.82,38.5C361.99,39.74 362.5,41.25 362.75,43.1C362.99,44.95 362.99,46.73 363.19,48.8C363.38,50.87 363.6,52.51 363.84,54.6C364.09,56.69 364.4,58.74 364.56,60.4C364.72,62.06 364.84,62.76 364.72,63.8C364.61,64.84 364.42,65.57 363.9,66.2C363.38,66.83 362.19,67.1 361.81,67.3L361.59,67.3C361.21,67.1 360.02,66.83 359.5,66.2C358.98,65.57 358.79,64.84 358.68,63.8C358.56,62.76 358.68,62.06 358.84,60.4C359,58.74 359.31,56.69 359.56,54.6C359.8,52.51 360.02,50.87 360.21,48.8C360.41,46.73 360.41,44.95 360.65,43.1C360.9,41.25 361.41,39.74 361.58,38.5C361.75,37.26 361.59,36.61 361.59,36.2Z" fill="none" stroke="#46467a" stroke-width="0.35" stroke-opacity="0.6"/>
<path d="M361.7,36.2V67.3" stroke="#2c2c44" stroke-width="0.6"/>
<rect x="360.65" y="52.9" width="2.1" height="8.6" fill="#eeeefc" stroke="#3c3c8c" stroke-width="0.6"/>
<path d="M360.45,59.2H362.95" stroke="#20205a" stroke-width="1.1"/>
<path d="M386.1,33.6C386.28,33.85 386.87,33.29 387.1,35C387.33,36.71 387.44,40.62 387.4,43.1C387.36,45.58 386.9,46.73 386.9,48.8C386.9,50.87 387.22,52.31 387.4,54.6C387.58,56.89 387.92,59.52 387.9,61.5C387.88,63.48 387.62,64.66 387.3,65.6C386.98,66.54 386.32,66.5 386.1,66.7L378.1,66.7C377.88,66.5 377.22,66.54 376.9,65.6C376.58,64.66 376.32,63.48 376.3,61.5C376.28,59.52 376.62,56.89 376.8,54.6C376.98,52.31 377.3,50.87 377.3,48.8C377.3,46.73 376.84,45.58 376.8,43.1C376.76,40.62 376.87,36.71 377.1,35C377.33,33.29 377.92,33.85 378.1,33.6Z" fill="#a88a69" stroke="#4a3826" stroke-width="0.7" stroke-linejoin="round"/>
<path d="M384.3,33.6C384.4,33.85 384.72,33.29 384.85,35C384.98,36.71 385.03,40.62 385.02,43.1C385,45.58 384.74,46.73 384.74,48.8C384.74,50.87 384.92,52.31 385.02,54.6C385.11,56.89 385.3,59.52 385.29,61.5C385.28,63.48 385.14,64.66 384.96,65.6C384.78,66.54 384.42,66.5 384.3,66.7L379.9,66.7C379.78,66.5 379.42,66.54 379.24,65.6C379.06,64.66 378.92,63.48 378.91,61.5C378.9,59.52 379.09,56.89 379.19,54.6C379.28,52.31 379.46,50.87 379.46,48.8C379.46,46.73 379.2,45.58 379.19,43.1C379.17,40.62 379.22,36.71 379.35,35C379.48,33.29 379.8,33.85 379.9,33.6Z" fill="none" stroke="#4a3826" stroke-width="0.35" stroke-opacity="0.6"/>
<path d="M382.1,33.6V66.7" stroke="#2e2a26" stroke-width="0.6"/>
<rect x="380.7" y="41.3" width="2.8" height="22" fill="#c9ad89" stroke="#6a3f14" stroke-width="0.6"/>
<path d="M380.5,50.6H383.7" stroke="#3a2410" stroke-width="1.1"/>
<path d="M393.3,40.2C393.44,40.51 393.72,40.35 394.1,41.9C394.48,43.45 394.95,46.51 395.4,48.8C395.85,51.09 396.22,52.51 396.6,54.6C396.98,56.69 397.23,58.64 397.5,60.4C397.77,62.16 398.35,63.27 398.1,64.4C397.85,65.53 396.46,66.29 396.1,66.7L390.1,66.7C389.74,66.29 388.35,65.53 388.1,64.4C387.85,63.27 388.43,62.16 388.7,60.4C388.97,58.64 389.22,56.69 389.6,54.6C389.98,52.51 390.35,51.09 390.8,48.8C391.25,46.51 391.72,43.45 392.1,41.9C392.48,40.35 392.76,40.51 392.9,40.2Z" fill="#d4d2f0" stroke="#46467a" stroke-width="0.7" stroke-linejoin="round"/>
<path d="M393.21,40.2C393.29,40.51 393.44,40.35 393.65,41.9C393.86,43.45 394.12,46.51 394.37,48.8C394.61,51.09 394.82,52.51 395.03,54.6C395.23,56.69 395.37,58.64 395.52,60.4C395.67,62.16 395.99,63.27 395.85,64.4C395.71,65.53 394.95,66.29 394.75,66.7L391.45,66.7C391.25,66.29 390.49,65.53 390.35,64.4C390.21,63.27 390.53,62.16 390.68,60.4C390.83,58.64 390.97,56.69 391.18,54.6C391.38,52.51 391.59,51.09 391.84,48.8C392.08,46.51 392.34,43.45 392.55,41.9C392.76,40.35 392.91,40.51 392.99,40.2Z" fill="none" stroke="#46467a" stroke-width="0.35" stroke-opacity="0.6"/>
<path d="M393.1,40.2V66.7" stroke="#2c2c44" stroke-width="0.6"/>
<rect x="391.9" y="51.2" width="2.4" height="10.9" fill="#eeeefc" stroke="#3c3c8c" stroke-width="0.6"/>
<path d="M391.7,58.1H394.5" stroke="#20205a" stroke-width="1.1"/>
<path d="M448.1,22.4V69.3H512.5" fill="none" stroke="#2b2b2b" stroke-width="1.35"/>
<path d="M445.3,28.5H448.1M445.3,40.4H448.1M445.3,51.9H448.1M445.3,63.5H448.1M465.2,69.3v2.6M497.0,69.3v2.6" stroke="#2b2b2b" stroke-width="1.1"/>
<g font-size="7.1" fill="#333" text-anchor="end"><text x="441.8" y="30.7">5</text><text x="441.8" y="42.6">4</text><text x="441.8" y="54.1">3</text><text x="441.8" y="65.7">2</text></g>
<text transform="translate(424.2,45) rotate(-90)" font-size="8.2" fill="#333" text-anchor="middle" textLength="47" lengthAdjust="spacingAndGlyphs">RBC (×10³/mL)</text>
<g font-size="6.8" fill="#333" text-anchor="middle"><text x="465.2" y="82.7">Cluster A</text><text x="497.0" y="82.7">Cluster B</text></g>
<path d="M458,23.2C458,26.78 457.7,38.91 458.02,43.1C458.34,47.29 459.07,45.26 459.8,46.5C460.53,47.74 461.38,48.54 462.1,50C462.82,51.46 463.49,52.94 463.8,54.6C464.11,56.26 464.2,57.54 463.8,59.2C463.4,60.86 462.41,62.58 461.6,63.8C460.79,65.02 459.95,65.44 459.3,66C458.65,66.56 458.23,66.74 458,66.9L457.6,66.9C457.37,66.74 456.95,66.56 456.3,66C455.65,65.44 454.81,65.02 454,63.8C453.19,62.58 452.2,60.86 451.8,59.2C451.4,57.54 451.49,56.26 451.8,54.6C452.11,52.94 452.78,51.46 453.5,50C454.22,48.54 455.07,47.74 455.8,46.5C456.53,45.26 457.26,47.29 457.58,43.1C457.9,38.91 457.6,26.78 457.6,23.2Z" fill="#a88a69" stroke="#4a3826" stroke-width="0.7" stroke-linejoin="round"/>
<path d="M457.91,23.2C457.91,26.78 457.74,38.91 457.92,43.1C458.1,47.29 458.5,45.26 458.9,46.5C459.3,47.74 459.77,48.54 460.17,50C460.56,51.46 460.93,52.94 461.1,54.6C461.27,56.26 461.32,57.54 461.1,59.2C460.88,60.86 460.34,62.58 459.89,63.8C459.44,65.02 458.98,65.44 458.62,66C458.27,66.56 458.04,66.74 457.91,66.9L457.69,66.9C457.56,66.74 457.33,66.56 456.98,66C456.62,65.44 456.16,65.02 455.71,63.8C455.26,62.58 454.72,60.86 454.5,59.2C454.28,57.54 454.33,56.26 454.5,54.6C454.67,52.94 455.04,51.46 455.44,50C455.83,48.54 456.3,47.74 456.7,46.5C457.1,45.26 457.5,47.29 457.68,43.1C457.86,38.91 457.69,26.78 457.69,23.2Z" fill="none" stroke="#4a3826" stroke-width="0.35" stroke-opacity="0.6"/>
<path d="M457.8,23.2V66.9" stroke="#2e2a26" stroke-width="0.6"/>
<rect x="456.65" y="50.6" width="2.3" height="9.8" fill="#c9ad89" stroke="#6a3f14" stroke-width="0.6"/>
<path d="M456.45,54.6H459.15" stroke="#3a2410" stroke-width="1.1"/>
<path d="M472.1,24.8C472.1,26.42 471.98,31.96 472.12,33.8C472.26,35.64 472.53,34.15 472.9,35C473.27,35.85 473.66,37.04 474.2,38.5C474.74,39.96 475.45,41.25 475.9,43.1C476.35,44.95 476.63,46.73 476.7,48.8C476.77,50.87 476.52,52.51 476.3,54.6C476.08,56.69 475.88,58.64 475.5,60.4C475.12,62.16 474.81,63.36 474.2,64.4C473.59,65.44 472.48,65.88 472.1,66.2L471.7,66.2C471.32,65.88 470.21,65.44 469.6,64.4C468.99,63.36 468.68,62.16 468.3,60.4C467.92,58.64 467.72,56.69 467.5,54.6C467.28,52.51 467.03,50.87 467.1,48.8C467.17,46.73 467.45,44.95 467.9,43.1C468.35,41.25 469.06,39.96 469.6,38.5C470.14,37.04 470.53,35.85 470.9,35C471.27,34.15 471.54,35.64 471.68,33.8C471.82,31.96 471.7,26.42 471.7,24.8Z" fill="#d4d2f0" stroke="#46467a" stroke-width="0.7" stroke-linejoin="round"/>
<path d="M472.01,24.8C472.01,26.42 471.94,31.96 472.02,33.8C472.1,35.64 472.24,34.15 472.45,35C472.66,35.85 472.87,37.04 473.16,38.5C473.46,39.96 473.85,41.25 474.1,43.1C474.35,44.95 474.5,46.73 474.54,48.8C474.58,50.87 474.44,52.51 474.32,54.6C474.2,56.69 474.09,58.64 473.88,60.4C473.67,62.16 473.5,63.36 473.16,64.4C472.83,65.44 472.22,65.88 472.01,66.2L471.79,66.2C471.58,65.88 470.97,65.44 470.63,64.4C470.3,63.36 470.13,62.16 469.92,60.4C469.71,58.64 469.6,56.69 469.48,54.6C469.36,52.51 469.22,50.87 469.26,48.8C469.3,46.73 469.45,44.95 469.7,43.1C469.95,41.25 470.34,39.96 470.63,38.5C470.93,37.04 471.14,35.85 471.35,35C471.56,34.15 471.7,35.64 471.78,33.8C471.86,31.96 471.79,26.42 471.79,24.8Z" fill="none" stroke="#46467a" stroke-width="0.35" stroke-opacity="0.6"/>
<path d="M471.9,24.8V66.2" stroke="#2c2c44" stroke-width="0.6"/>
<rect x="470.6" y="45.4" width="2.6" height="11.5" fill="#eeeefc" stroke="#3c3c8c" stroke-width="0.6"/>
<path d="M470.4,48.8H473.4" stroke="#20205a" stroke-width="1.1"/>
<path d="M489.7,25.2C489.83,25.34 490.4,25.48 490.4,26C490.4,26.52 489.58,27.52 489.72,28.1C489.86,28.68 490.41,28.17 491.2,29.2C491.99,30.23 493.27,32.13 494.1,33.8C494.93,35.47 495.64,36.83 495.8,38.5C495.96,40.17 495.67,41.25 495,43.1C494.33,44.95 493.05,46.93 492.1,48.8C491.15,50.67 490.15,51.75 489.72,53.5C489.29,55.25 489.72,57.37 489.72,58.5C489.72,59.63 489.72,59.35 489.72,59.8C489.72,60.25 489.7,60.78 489.7,61L489.3,61C489.3,60.78 489.28,60.25 489.28,59.8C489.28,59.35 489.28,59.63 489.28,58.5C489.28,57.37 489.71,55.25 489.28,53.5C488.85,51.75 487.85,50.67 486.9,48.8C485.95,46.93 484.67,44.95 484,43.1C483.33,41.25 483.04,40.17 483.2,38.5C483.36,36.83 484.07,35.47 484.9,33.8C485.73,32.13 487.01,30.23 487.8,29.2C488.59,28.17 489.14,28.68 489.28,28.1C489.42,27.52 488.6,26.52 488.6,26C488.6,25.48 489.17,25.34 489.3,25.2Z" fill="#a88a69" stroke="#4a3826" stroke-width="0.7" stroke-linejoin="round"/>
<path d="M489.61,25.2C489.68,25.34 489.99,25.48 490,26C490,26.52 489.54,27.52 489.62,28.1C489.7,28.68 490,28.17 490.44,29.2C490.87,30.23 491.57,32.13 492.03,33.8C492.49,35.47 492.88,36.83 492.97,38.5C493.05,40.17 492.89,41.25 492.52,43.1C492.16,44.95 491.45,46.93 490.93,48.8C490.41,50.67 489.86,51.75 489.62,53.5C489.39,55.25 489.62,57.37 489.62,58.5C489.62,59.63 489.62,59.35 489.62,59.8C489.62,60.25 489.61,60.78 489.61,61L489.39,61C489.39,60.78 489.38,60.25 489.38,59.8C489.38,59.35 489.38,59.63 489.38,58.5C489.38,57.37 489.61,55.25 489.38,53.5C489.14,51.75 488.59,50.67 488.07,48.8C487.55,46.93 486.84,44.95 486.48,43.1C486.11,41.25 485.95,40.17 486.03,38.5C486.12,36.83 486.51,35.47 486.97,33.8C487.43,32.13 488.13,30.23 488.56,29.2C489,28.17 489.3,28.68 489.38,28.1C489.46,27.52 489,26.52 489,26C489.01,25.48 489.32,25.34 489.39,25.2Z" fill="none" stroke="#4a3826" stroke-width="0.35" stroke-opacity="0.6"/>
<path d="M489.5,25.2V61" stroke="#2e2a26" stroke-width="0.6"/>
<rect x="488.2" y="35.6" width="2.6" height="8.1" fill="#c9ad89" stroke="#6a3f14" stroke-width="0.6"/>
<path d="M488,39H491" stroke="#3a2410" stroke-width="1.1"/>
<path d="M503.6,30.2C504.03,30.43 505.05,30.64 506,31.5C506.95,32.36 508.13,33.65 508.9,35C509.67,36.35 510.41,37.54 510.3,39C510.19,40.46 509.13,41.34 508.3,43.1C507.47,44.86 506.54,46.73 505.7,48.8C504.86,50.87 504,51.99 503.62,54.6C503.24,57.21 503.6,61.73 503.6,63.3L503.2,63.3C503.2,61.73 503.56,57.21 503.18,54.6C502.8,51.99 501.94,50.87 501.1,48.8C500.26,46.73 499.33,44.86 498.5,43.1C497.67,41.34 496.61,40.46 496.5,39C496.39,37.54 497.13,36.35 497.9,35C498.67,33.65 499.85,32.36 500.8,31.5C501.75,30.64 502.77,30.43 503.2,30.2Z" fill="#d4d2f0" stroke="#46467a" stroke-width="0.7" stroke-linejoin="round"/>
<path d="M503.51,30.2C503.75,30.43 504.31,30.64 504.83,31.5C505.35,32.36 506,33.65 506.42,35C506.85,36.35 507.25,37.54 507.19,39C507.14,40.46 506.55,41.34 506.09,43.1C505.64,44.86 505.13,46.73 504.66,48.8C504.2,50.87 503.73,51.99 503.52,54.6C503.31,57.21 503.51,61.73 503.51,63.3L503.29,63.3C503.29,61.73 503.49,57.21 503.28,54.6C503.07,51.99 502.6,50.87 502.13,48.8C501.67,46.73 501.16,44.86 500.7,43.1C500.25,41.34 499.66,40.46 499.6,39C499.55,37.54 499.95,36.35 500.38,35C500.8,33.65 501.45,32.36 501.97,31.5C502.49,30.64 503.05,30.43 503.29,30.2Z" fill="none" stroke="#46467a" stroke-width="0.35" stroke-opacity="0.6"/>
<path d="M503.4,30.2V63.3" stroke="#2c2c44" stroke-width="0.6"/>
<rect x="502.1" y="36.2" width="2.6" height="7.5" fill="#eeeefc" stroke="#3c3c8c" stroke-width="0.6"/>
<path d="M501.9,39.8H504.9" stroke="#20205a" stroke-width="1.1"/>
<path d="M339.2,104.3V151.4H403.0" fill="none" stroke="#2b2b2b" stroke-width="1.35"/>
<path d="M336.4,112.3H339.2M336.4,120.4H339.2M336.4,128.4H339.2M336.4,136.5H339.2M336.4,144.3H339.2M355.9,151.4v2.6M387.6,151.4v2.6" stroke="#2b2b2b" stroke-width="1.1"/>
<g font-size="7.1" fill="#333" text-anchor="end"><text x="332.9" y="114.5">15</text><text x="332.9" y="122.6">13</text><text x="332.9" y="130.6">11</text><text x="332.9" y="138.7">9</text><text x="332.9" y="146.5">7</text></g>
<text transform="translate(310.1,127.5) rotate(-90)" font-size="8.2" fill="#333" text-anchor="middle" textLength="61" lengthAdjust="spacingAndGlyphs">Hemoglobin (g/dL)</text>
<g font-size="6.8" fill="#333" text-anchor="middle"><text x="355.9" y="164.7">Cluster A</text><text x="387.6" y="164.7">Cluster B</text></g>
<path d="M348.5,110.4C348.5,113.3 348.2,123.19 348.52,126.5C348.84,129.81 349.66,127.76 350.3,128.8C350.94,129.84 351.49,130.84 352.05,132.3C352.61,133.76 353.36,135.24 353.4,136.9C353.45,138.56 352.86,139.83 352.3,141.5C351.74,143.17 350.98,144.74 350.3,146.2C349.62,147.66 348.82,148.99 348.5,149.6L348.1,149.6C347.78,148.99 346.98,147.66 346.3,146.2C345.62,144.74 344.86,143.17 344.3,141.5C343.74,139.83 343.15,138.56 343.2,136.9C343.25,135.24 343.99,133.76 344.55,132.3C345.11,130.84 345.66,129.84 346.3,128.8C346.94,127.76 347.76,129.81 348.08,126.5C348.4,123.19 348.1,113.3 348.1,110.4Z" fill="#a88a69" stroke="#4a3826" stroke-width="0.7" stroke-linejoin="round"/>
<path d="M348.41,110.4C348.41,113.3 348.24,123.19 348.42,126.5C348.6,129.81 349.05,127.76 349.4,128.8C349.75,129.84 350.06,130.84 350.36,132.3C350.67,133.76 351.08,135.24 351.11,136.9C351.13,138.56 350.81,139.83 350.5,141.5C350.19,143.17 349.78,144.74 349.4,146.2C349.02,147.66 348.59,148.99 348.41,149.6L348.19,149.6C348.01,148.99 347.58,147.66 347.2,146.2C346.82,144.74 346.41,143.17 346.1,141.5C345.79,139.83 345.47,138.56 345.5,136.9C345.52,135.24 345.93,133.76 346.24,132.3C346.54,130.84 346.85,129.84 347.2,128.8C347.55,127.76 348,129.81 348.18,126.5C348.36,123.19 348.19,113.3 348.19,110.4Z" fill="none" stroke="#4a3826" stroke-width="0.35" stroke-opacity="0.6"/>
<path d="M348.3,110.4V149.6" stroke="#2e2a26" stroke-width="0.6"/>
<rect x="347.15" y="134" width="2.3" height="5.8" fill="#c9ad89" stroke="#6a3f14" stroke-width="0.6"/>
<path d="M346.95,137.5H349.65" stroke="#3a2410" stroke-width="1.1"/>
<path d="M363.3,104.4C363.3,106.09 363.05,111.48 363.32,113.8C363.59,116.12 364.32,115.63 364.8,117.3C365.28,118.97 365.64,121.03 366,123.1C366.36,125.17 366.69,126.73 366.8,128.8C366.91,130.87 366.82,132.51 366.6,134.6C366.38,136.69 366.05,138.53 365.6,140.4C365.15,142.27 364.51,143.34 364.1,145C363.69,146.66 363.44,148.77 363.3,149.6L362.9,149.6C362.76,148.77 362.51,146.66 362.1,145C361.69,143.34 361.05,142.27 360.6,140.4C360.15,138.53 359.82,136.69 359.6,134.6C359.38,132.51 359.29,130.87 359.4,128.8C359.51,126.73 359.84,125.17 360.2,123.1C360.56,121.03 360.92,118.97 361.4,117.3C361.88,115.63 362.61,116.12 362.88,113.8C363.15,111.48 362.9,106.09 362.9,104.4Z" fill="#d4d2f0" stroke="#46467a" stroke-width="0.7" stroke-linejoin="round"/>
<path d="M363.21,104.4C363.21,106.09 363.07,111.48 363.22,113.8C363.37,116.12 363.77,115.63 364.04,117.3C364.3,118.97 364.5,121.03 364.69,123.1C364.89,125.17 365.08,126.73 365.13,128.8C365.19,130.87 365.14,132.51 365.03,134.6C364.91,136.69 364.72,138.53 364.48,140.4C364.23,142.27 363.88,143.34 363.65,145C363.42,146.66 363.29,148.77 363.21,149.6L362.99,149.6C362.91,148.77 362.78,146.66 362.55,145C362.32,143.34 361.97,142.27 361.73,140.4C361.48,138.53 361.29,136.69 361.18,134.6C361.06,132.51 361.01,130.87 361.07,128.8C361.12,126.73 361.31,125.17 361.51,123.1C361.7,121.03 361.9,118.97 362.17,117.3C362.43,115.63 362.83,116.12 362.98,113.8C363.13,111.48 362.99,106.09 362.99,104.4Z" fill="none" stroke="#46467a" stroke-width="0.35" stroke-opacity="0.6"/>
<path d="M363.1,104.4V149.6" stroke="#2c2c44" stroke-width="0.6"/>
<rect x="361.95" y="123.1" width="2.3" height="12.7" fill="#eeeefc" stroke="#3c3c8c" stroke-width="0.6"/>
<path d="M361.75,130H364.45" stroke="#20205a" stroke-width="1.1"/>
<path d="M382.1,114.4C382.46,114.72 383.43,115.05 384.1,116.2C384.77,117.35 385.75,119.14 385.8,120.8C385.85,122.46 385.07,123.53 384.4,125.4C383.73,127.27 382.78,129.54 382.1,131.2C381.42,132.86 380.89,132.66 380.62,134.6C380.35,136.54 380.5,140.49 380.62,142C380.74,143.51 381.3,142.64 381.3,143C381.3,143.36 380.73,143.82 380.6,144L380.2,144C380.07,143.82 379.5,143.36 379.5,143C379.5,142.64 380.06,143.51 380.18,142C380.3,140.49 380.45,136.54 380.18,134.6C379.91,132.66 379.38,132.86 378.7,131.2C378.02,129.54 377.07,127.27 376.4,125.4C375.73,123.53 374.95,122.46 375,120.8C375.05,119.14 376.03,117.35 376.7,116.2C377.37,115.05 378.34,114.72 378.7,114.4Z" fill="#a88a69" stroke="#4a3826" stroke-width="0.7" stroke-linejoin="round"/>
<path d="M381.33,114.4C381.53,114.72 382.07,115.05 382.43,116.2C382.8,117.35 383.34,119.14 383.37,120.8C383.4,122.46 382.97,123.53 382.6,125.4C382.23,127.27 381.71,129.54 381.33,131.2C380.96,132.86 380.67,132.66 380.52,134.6C380.37,136.54 380.45,140.49 380.52,142C380.59,143.51 380.9,142.64 380.89,143C380.89,143.36 380.58,143.82 380.51,144L380.29,144C380.22,143.82 379.91,143.36 379.9,143C379.9,142.64 380.21,143.51 380.28,142C380.35,140.49 380.43,136.54 380.28,134.6C380.13,132.66 379.84,132.86 379.46,131.2C379.09,129.54 378.57,127.27 378.2,125.4C377.83,123.53 377.4,122.46 377.43,120.8C377.46,119.14 378,117.35 378.37,116.2C378.73,115.05 379.27,114.72 379.46,114.4Z" fill="none" stroke="#4a3826" stroke-width="0.35" stroke-opacity="0.6"/>
<path d="M380.4,114.4V144" stroke="#2e2a26" stroke-width="0.6"/>
<rect x="379.25" y="118.5" width="2.3" height="7.5" fill="#c9ad89" stroke="#6a3f14" stroke-width="0.6"/>
<path d="M379.05,122.5H381.75" stroke="#3a2410" stroke-width="1.1"/>
<path d="M395,111C395,111.18 394.75,111.28 395.02,112C395.29,112.72 395.82,113.83 396.5,115C397.18,116.17 397.86,117.26 398.8,118.5C399.74,119.74 401.7,120.66 401.7,121.9C401.7,123.14 399.74,123.94 398.8,125.4C397.86,126.86 397.18,128.54 396.5,130C395.82,131.46 395.29,131.93 395.02,133.5C394.75,135.07 395,137.76 395,138.7L394.6,138.7C394.6,137.76 394.85,135.07 394.58,133.5C394.31,131.93 393.78,131.46 393.1,130C392.42,128.54 391.74,126.86 390.8,125.4C389.86,123.94 387.9,123.14 387.9,121.9C387.9,120.66 389.86,119.74 390.8,118.5C391.74,117.26 392.42,116.17 393.1,115C393.78,113.83 394.31,112.72 394.58,112C394.85,111.28 394.6,111.18 394.6,111Z" fill="#d4d2f0" stroke="#46467a" stroke-width="0.7" stroke-linejoin="round"/>
<path d="M394.91,111C394.91,111.18 394.77,111.28 394.92,112C395.07,112.72 395.36,113.83 395.74,115C396.11,116.17 396.49,117.26 397,118.5C397.51,119.74 398.6,120.66 398.6,121.9C398.6,123.14 397.51,123.94 397,125.4C396.49,126.86 396.11,128.54 395.74,130C395.36,131.46 395.07,131.93 394.92,133.5C394.77,135.07 394.91,137.76 394.91,138.7L394.69,138.7C394.69,137.76 394.83,135.07 394.68,133.5C394.53,131.93 394.24,131.46 393.87,130C393.49,128.54 393.11,126.86 392.6,125.4C392.09,123.94 391,123.14 391,121.9C391,120.66 392.09,119.74 392.6,118.5C393.11,117.26 393.49,116.17 393.87,115C394.24,113.83 394.53,112.72 394.68,112C394.83,111.28 394.69,111.18 394.69,111Z" fill="none" stroke="#46467a" stroke-width="0.35" stroke-opacity="0.6"/>
<path d="M394.8,111V138.7" stroke="#2c2c44" stroke-width="0.6"/>
<rect x="393.65" y="119" width="2.3" height="5.8" fill="#eeeefc" stroke="#3c3c8c" stroke-width="0.6"/>
<path d="M393.45,121.7H396.15" stroke="#20205a" stroke-width="1.1"/>
<path d="M448.1,104.2V151.8H512.5" fill="none" stroke="#2b2b2b" stroke-width="1.35"/>
<path d="M445.3,110.5H448.1M445.3,122H448.1M445.3,133.4H448.1M445.3,144.3H448.1M465.2,151.8v2.6M497.0,151.8v2.6" stroke="#2b2b2b" stroke-width="1.1"/>
<g font-size="7.1" fill="#333" text-anchor="end"><text x="441.8" y="112.7">115</text><text x="441.8" y="124.2">100</text><text x="441.8" y="135.6">85</text><text x="441.8" y="146.5">70</text></g>
<text transform="translate(424.2,124.6) rotate(-90)" font-size="8.2" fill="#333" text-anchor="middle" textLength="30" lengthAdjust="spacingAndGlyphs">MCV (fL)</text>
<g font-size="6.8" fill="#333" text-anchor="middle"><text x="465.2" y="165.1">Cluster A</text><text x="497.0" y="165.1">Cluster B</text></g>
<path d="M458,105.2C458,106.33 457.77,110.15 458.02,111.5C458.27,112.85 458.88,111.66 459.4,112.7C459.92,113.74 460.38,115.43 460.9,117.3C461.42,119.17 461.81,121.03 462.3,123.1C462.79,125.17 463.24,127.04 463.6,128.8C463.96,130.56 464.52,131.44 464.3,132.9C464.08,134.36 463.21,135.69 462.4,136.9C461.59,138.11 460.59,138.97 459.8,139.6C459.01,140.23 458.32,140.26 458,140.4L457.6,140.4C457.28,140.26 456.59,140.23 455.8,139.6C455.01,138.97 454.01,138.11 453.2,136.9C452.39,135.69 451.52,134.36 451.3,132.9C451.08,131.44 451.64,130.56 452,128.8C452.36,127.04 452.81,125.17 453.3,123.1C453.79,121.03 454.18,119.17 454.7,117.3C455.22,115.43 455.68,113.74 456.2,112.7C456.72,111.66 457.33,112.85 457.58,111.5C457.83,110.15 457.6,106.33 457.6,105.2Z" fill="#a88a69" stroke="#4a3826" stroke-width="0.7" stroke-linejoin="round"/>
<path d="M457.91,105.2C457.91,106.33 457.78,110.15 457.92,111.5C458.06,112.85 458.39,111.66 458.68,112.7C458.97,113.74 459.22,115.43 459.51,117.3C459.79,119.17 460.01,121.03 460.28,123.1C460.54,125.17 460.79,127.04 460.99,128.8C461.19,130.56 461.49,131.44 461.38,132.9C461.26,134.36 460.78,135.69 460.33,136.9C459.88,138.11 459.34,138.97 458.9,139.6C458.46,140.23 458.09,140.26 457.91,140.4L457.69,140.4C457.51,140.26 457.14,140.23 456.7,139.6C456.26,138.97 455.72,138.11 455.27,136.9C454.82,135.69 454.34,134.36 454.23,132.9C454.11,131.44 454.41,130.56 454.61,128.8C454.81,127.04 455.06,125.17 455.32,123.1C455.59,121.03 455.81,119.17 456.09,117.3C456.38,115.43 456.63,113.74 456.92,112.7C457.21,111.66 457.54,112.85 457.68,111.5C457.82,110.15 457.69,106.33 457.69,105.2Z" fill="none" stroke="#4a3826" stroke-width="0.35" stroke-opacity="0.6"/>
<path d="M457.8,105.2V140.4" stroke="#2e2a26" stroke-width="0.6"/>
<rect x="456.4" y="120.8" width="2.8" height="13.2" fill="#c9ad89" stroke="#6a3f14" stroke-width="0.6"/>
<path d="M456.2,128.3H459.4" stroke="#3a2410" stroke-width="1.1"/>
<path d="M472.1,104.6C472.37,105.01 473.06,105.66 473.6,106.9C474.14,108.14 474.56,109.63 475.1,111.5C475.64,113.37 476.19,115.63 476.6,117.3C477.01,118.97 477.45,119.34 477.4,120.8C477.35,122.26 476.77,123.53 476.3,125.4C475.83,127.27 475.34,129.33 474.8,131.2C474.26,133.07 473.79,134.45 473.3,135.8C472.81,137.15 472.32,138.18 472.1,138.7L471.7,138.7C471.48,138.18 470.99,137.15 470.5,135.8C470.01,134.45 469.54,133.07 469,131.2C468.46,129.33 467.97,127.27 467.5,125.4C467.03,123.53 466.45,122.26 466.4,120.8C466.35,119.34 466.79,118.97 467.2,117.3C467.61,115.63 468.16,113.37 468.7,111.5C469.24,109.63 469.66,108.14 470.2,106.9C470.74,105.66 471.43,105.01 471.7,104.6Z" fill="#d4d2f0" stroke="#46467a" stroke-width="0.7" stroke-linejoin="round"/>
<path d="M472.01,104.6C472.16,105.01 472.54,105.66 472.83,106.9C473.13,108.14 473.36,109.63 473.66,111.5C473.96,113.37 474.26,115.63 474.48,117.3C474.71,118.97 474.95,119.34 474.92,120.8C474.9,122.26 474.58,123.53 474.32,125.4C474.06,127.27 473.79,129.33 473.49,131.2C473.2,133.07 472.94,134.45 472.67,135.8C472.4,137.15 472.13,138.18 472.01,138.7L471.79,138.7C471.67,138.18 471.4,137.15 471.13,135.8C470.86,134.45 470.6,133.07 470.31,131.2C470.01,129.33 469.74,127.27 469.48,125.4C469.22,123.53 468.9,122.26 468.88,120.8C468.85,119.34 469.09,118.97 469.31,117.3C469.54,115.63 469.84,113.37 470.14,111.5C470.44,109.63 470.67,108.14 470.96,106.9C471.26,105.66 471.64,105.01 471.79,104.6Z" fill="none" stroke="#46467a" stroke-width="0.35" stroke-opacity="0.6"/>
<path d="M471.9,104.6V138.7" stroke="#2c2c44" stroke-width="0.6"/>
<rect x="470.75" y="116.2" width="2.3" height="10.9" fill="#eeeefc" stroke="#3c3c8c" stroke-width="0.6"/>
<path d="M470.55,121.3H473.25" stroke="#20205a" stroke-width="1.1"/>
<path d="M492.1,115.6C492.21,115.91 492.18,115.95 492.7,117.3C493.22,118.65 494.39,121.23 495,123.1C495.61,124.97 496.21,126.04 496.1,127.7C495.99,129.36 495.23,130.64 494.4,132.3C493.57,133.96 492.29,135.55 491.5,136.9C490.71,138.25 490.29,137.51 490.02,139.8C489.75,142.09 490,147.84 490,149.6L489.6,149.6C489.6,147.84 489.85,142.09 489.58,139.8C489.31,137.51 488.89,138.25 488.1,136.9C487.31,135.55 486.03,133.96 485.2,132.3C484.37,130.64 483.61,129.36 483.5,127.7C483.39,126.04 483.99,124.97 484.6,123.1C485.21,121.23 486.38,118.65 486.9,117.3C487.42,115.95 487.39,115.91 487.5,115.6Z" fill="#a88a69" stroke="#4a3826" stroke-width="0.7" stroke-linejoin="round"/>
<path d="M491.06,115.6C491.12,115.91 491.11,115.95 491.39,117.3C491.68,118.65 492.32,121.23 492.66,123.1C493,124.97 493.32,126.04 493.27,127.7C493.21,129.36 492.79,130.64 492.33,132.3C491.87,133.96 491.17,135.55 490.74,136.9C490.3,138.25 490.07,137.51 489.92,139.8C489.77,142.09 489.91,147.84 489.91,149.6L489.69,149.6C489.69,147.84 489.83,142.09 489.68,139.8C489.53,137.51 489.3,138.25 488.87,136.9C488.43,135.55 487.73,133.96 487.27,132.3C486.81,130.64 486.39,129.36 486.33,127.7C486.28,126.04 486.6,124.97 486.94,123.1C487.28,121.23 487.92,118.65 488.21,117.3C488.49,115.95 488.48,115.91 488.54,115.6Z" fill="none" stroke="#4a3826" stroke-width="0.35" stroke-opacity="0.6"/>
<path d="M489.8,115.6V149.6" stroke="#2e2a26" stroke-width="0.6"/>
<rect x="488.5" y="123.7" width="2.6" height="8.6" fill="#c9ad89" stroke="#6a3f14" stroke-width="0.6"/>
<path d="M488.3,127.7H491.3" stroke="#3a2410" stroke-width="1.1"/>
<path d="M504.2,108.1C504.2,108.26 504.22,107.87 504.22,109C504.22,110.13 503.85,113.1 504.22,114.4C504.59,115.7 505.51,115.05 506.3,116.2C507.09,117.35 507.72,118.95 508.6,120.8C509.48,122.65 511.2,124.43 511.2,126.5C511.2,128.57 509.48,130.43 508.6,132.3C507.72,134.17 507.09,135.55 506.3,136.9C505.51,138.25 504.58,139.28 504.2,139.8L503.8,139.8C503.42,139.28 502.49,138.25 501.7,136.9C500.91,135.55 500.28,134.17 499.4,132.3C498.52,130.43 496.8,128.57 496.8,126.5C496.8,124.43 498.52,122.65 499.4,120.8C500.28,118.95 500.91,117.35 501.7,116.2C502.49,115.05 503.41,115.7 503.78,114.4C504.15,113.1 503.78,110.13 503.78,109C503.78,107.87 503.8,108.26 503.8,108.1Z" fill="#d4d2f0" stroke="#46467a" stroke-width="0.7" stroke-linejoin="round"/>
<path d="M504.11,108.1C504.11,108.26 504.12,107.87 504.12,109C504.12,110.13 503.92,113.1 504.12,114.4C504.33,115.7 504.83,115.05 505.26,116.2C505.7,117.35 506.04,118.95 506.53,120.8C507.02,122.65 507.96,124.43 507.96,126.5C507.96,128.57 507.02,130.43 506.53,132.3C506.04,134.17 505.7,135.55 505.26,136.9C504.83,138.25 504.32,139.28 504.11,139.8L503.89,139.8C503.68,139.28 503.17,138.25 502.74,136.9C502.3,135.55 501.96,134.17 501.47,132.3C500.98,130.43 500.04,128.57 500.04,126.5C500.04,124.43 500.98,122.65 501.47,120.8C501.96,118.95 502.3,117.35 502.74,116.2C503.17,115.05 503.67,115.7 503.88,114.4C504.08,113.1 503.88,110.13 503.88,109C503.88,107.87 503.89,108.26 503.89,108.1Z" fill="none" stroke="#46467a" stroke-width="0.35" stroke-opacity="0.6"/>
<path d="M504,108.1V139.8" stroke="#2c2c44" stroke-width="0.6"/>
<rect x="502.7" y="122.5" width="2.6" height="8.1" fill="#eeeefc" stroke="#3c3c8c" stroke-width="0.6"/>
<path d="M502.5,126.3H505.5" stroke="#20205a" stroke-width="1.1"/>
<path d="M339.2,182.6V233.9H403.0" fill="none" stroke="#2b2b2b" stroke-width="1.35"/>
<path d="M336.4,184.5H339.2M336.4,197H339.2M336.4,208.7H339.2M336.4,220.9H339.2M336.4,232.6H339.2M355.9,233.9v2.6M387.6,233.9v2.6" stroke="#2b2b2b" stroke-width="1.1"/>
<g font-size="7.1" fill="#333" text-anchor="end"><text x="332.9" y="186.7">400</text><text x="332.9" y="199.2">300</text><text x="332.9" y="210.9">200</text><text x="332.9" y="223.1">100</text><text x="332.9" y="234.8">0</text></g>
<text transform="translate(310.1,208.6) rotate(-90)" font-size="8.2" fill="#333" text-anchor="middle" textLength="61.2" lengthAdjust="spacingAndGlyphs">Platelets (×10³/mL)</text>
<g font-size="6.8" fill="#333" text-anchor="middle"><text x="355.9" y="247.2">Cluster A</text><text x="387.6" y="247.2">Cluster B</text></g>
<path d="M348.9,218.7C348.9,219.78 348.65,223.42 348.92,224.7C349.19,225.98 349.61,225.17 350.4,225.8C351.19,226.43 352.36,227.35 353.3,228.2C354.24,229.05 355.26,229.89 355.6,230.5C355.94,231.11 355.27,231.4 355.2,231.6L342.2,231.6C342.13,231.4 341.46,231.11 341.8,230.5C342.14,229.89 343.16,229.05 344.1,228.2C345.04,227.35 346.21,226.43 347,225.8C347.79,225.17 348.21,225.98 348.48,224.7C348.75,223.42 348.5,219.78 348.5,218.7Z" fill="#a88a69" stroke="#4a3826" stroke-width="0.7" stroke-linejoin="round"/>
<path d="M348.81,218.7C348.81,219.78 348.67,223.42 348.82,224.7C348.97,225.98 349.2,225.17 349.63,225.8C350.07,226.43 350.72,227.35 351.23,228.2C351.74,229.05 352.31,229.89 352.5,230.5C352.68,231.11 352.31,231.4 352.27,231.6L345.12,231.6C345.09,231.4 344.72,231.11 344.9,230.5C345.09,229.89 345.66,229.05 346.17,228.2C346.68,227.35 347.33,226.43 347.76,225.8C348.2,225.17 348.43,225.98 348.58,224.7C348.73,223.42 348.59,219.78 348.59,218.7Z" fill="none" stroke="#4a3826" stroke-width="0.35" stroke-opacity="0.6"/>
<path d="M348.7,218.7V231.6" stroke="#2e2a26" stroke-width="0.6"/>
<rect x="347.6" y="227.5" width="2.2" height="3.5" fill="#c9ad89" stroke="#6a3f14" stroke-width="0.6"/>
<path d="M347.4,229.5H350" stroke="#3a2410" stroke-width="1.1"/>
<path d="M367.2,218.9C367.16,219.1 367.22,219.37 367,220C366.78,220.63 365.77,221.36 366,222.4C366.23,223.44 367.47,224.67 368.3,225.8C369.13,226.93 370.29,227.76 370.6,228.7C370.91,229.64 370.25,230.48 370,231C369.75,231.52 369.34,231.49 369.2,231.6L358.2,231.6C358.06,231.49 357.65,231.52 357.4,231C357.15,230.48 356.49,229.64 356.8,228.7C357.11,227.76 358.27,226.93 359.1,225.8C359.93,224.67 361.17,223.44 361.4,222.4C361.63,221.36 360.62,220.63 360.4,220C360.18,219.37 360.24,219.1 360.2,218.9Z" fill="#d4d2f0" stroke="#46467a" stroke-width="0.7" stroke-linejoin="round"/>
<path d="M365.62,218.9C365.61,219.1 365.63,219.37 365.51,220C365.4,220.63 364.84,221.36 364.96,222.4C365.09,223.44 365.77,224.67 366.23,225.8C366.69,226.93 367.33,227.76 367.5,228.7C367.66,229.64 367.3,230.48 367.17,231C367.03,231.52 366.8,231.49 366.72,231.6L360.68,231.6C360.6,231.49 360.37,231.52 360.23,231C360.1,230.48 359.74,229.64 359.9,228.7C360.07,227.76 360.71,226.93 361.17,225.8C361.63,224.67 362.31,223.44 362.44,222.4C362.56,221.36 362,220.63 361.88,220C361.77,219.37 361.79,219.1 361.77,218.9Z" fill="none" stroke="#46467a" stroke-width="0.35" stroke-opacity="0.6"/>
<path d="M363.7,218.9V231.6" stroke="#2c2c44" stroke-width="0.6"/>
<rect x="362.55" y="223.5" width="2.3" height="6.4" fill="#eeeefc" stroke="#3c3c8c" stroke-width="0.6"/>
<path d="M362.35,228.2H365.05" stroke="#20205a" stroke-width="1.1"/>
<path d="M382.3,188.3C382.41,188.82 382.68,189.85 382.9,191.2C383.12,192.55 383.5,194.13 383.5,195.8C383.5,197.47 382.67,198.83 382.9,200.5C383.13,202.17 383.97,203.55 384.8,205.1C385.63,206.65 386.78,207.86 387.5,209.1C388.22,210.34 388.87,210.96 388.8,212C388.73,213.04 387.73,214.27 387.1,214.9C386.47,215.53 385.62,215.39 385.3,215.5L377.3,215.5C376.98,215.39 376.13,215.53 375.5,214.9C374.87,214.27 373.87,213.04 373.8,212C373.73,210.96 374.38,210.34 375.1,209.1C375.82,207.86 376.97,206.65 377.8,205.1C378.63,203.55 379.47,202.17 379.7,200.5C379.93,198.83 379.1,197.47 379.1,195.8C379.1,194.13 379.48,192.55 379.7,191.2C379.92,189.85 380.19,188.82 380.3,188.3Z" fill="#a88a69" stroke="#4a3826" stroke-width="0.7" stroke-linejoin="round"/>
<path d="M381.85,188.3C381.91,188.82 382.06,189.85 382.18,191.2C382.3,192.55 382.51,194.13 382.51,195.8C382.51,197.47 382.05,198.83 382.18,200.5C382.31,202.17 382.77,203.55 383.23,205.1C383.68,206.65 384.31,207.86 384.71,209.1C385.11,210.34 385.46,210.96 385.43,212C385.39,213.04 384.84,214.27 384.49,214.9C384.14,215.53 383.68,215.39 383.5,215.5L379.1,215.5C378.92,215.39 378.46,215.53 378.11,214.9C377.76,214.27 377.21,213.04 377.18,212C377.14,210.96 377.49,210.34 377.89,209.1C378.29,207.86 378.92,206.65 379.38,205.1C379.83,203.55 380.29,202.17 380.42,200.5C380.55,198.83 380.09,197.47 380.09,195.8C380.09,194.13 380.3,192.55 380.42,191.2C380.54,189.85 380.69,188.82 380.75,188.3Z" fill="none" stroke="#4a3826" stroke-width="0.35" stroke-opacity="0.6"/>
<path d="M381.3,188.3V215.5" stroke="#2e2a26" stroke-width="0.6"/>
<rect x="380.3" y="204.5" width="2" height="7.5" fill="#c9ad89" stroke="#6a3f14" stroke-width="0.6"/>
<path d="M380.1,209.7H382.5" stroke="#3a2410" stroke-width="1.1"/>
<path d="M397.5,196.4C397.64,196.72 398.16,197.05 398.3,198.2C398.44,199.35 397.99,201.14 398.3,202.8C398.61,204.46 399.28,205.74 400,207.4C400.72,209.06 402.08,210.34 402.3,212C402.52,213.66 401.79,215.47 401.2,216.6C400.61,217.73 399.4,217.99 399,218.3L393,218.3C392.6,217.99 391.39,217.73 390.8,216.6C390.21,215.47 389.48,213.66 389.7,212C389.92,210.34 391.28,209.06 392,207.4C392.72,205.74 393.39,204.46 393.7,202.8C394.01,201.14 393.56,199.35 393.7,198.2C393.84,197.05 394.36,196.72 394.5,196.4Z" fill="#d4d2f0" stroke="#46467a" stroke-width="0.7" stroke-linejoin="round"/>
<path d="M396.82,196.4C396.9,196.72 397.19,197.05 397.26,198.2C397.34,199.35 397.1,201.14 397.26,202.8C397.43,204.46 397.8,205.74 398.2,207.4C398.6,209.06 399.35,210.34 399.47,212C399.58,213.66 399.19,215.47 398.86,216.6C398.53,217.73 397.87,217.99 397.65,218.3L394.35,218.3C394.13,217.99 393.47,217.73 393.14,216.6C392.81,215.47 392.42,213.66 392.53,212C392.65,210.34 393.4,209.06 393.8,207.4C394.2,205.74 394.57,204.46 394.74,202.8C394.9,201.14 394.66,199.35 394.74,198.2C394.81,197.05 395.1,196.72 395.18,196.4Z" fill="none" stroke="#46467a" stroke-width="0.35" stroke-opacity="0.6"/>
<path d="M396,196.4V218.3" stroke="#2c2c44" stroke-width="0.6"/>
<rect x="394.85" y="206.8" width="2.3" height="7.5" fill="#eeeefc" stroke="#3c3c8c" stroke-width="0.6"/>
<path d="M394.65,212.6H397.35" stroke="#20205a" stroke-width="1.1"/>
<path d="M448.1,182.4V234.3H512.5" fill="none" stroke="#2b2b2b" stroke-width="1.35"/>
<path d="M445.3,193.8H448.1M445.3,205.1H448.1M445.3,216.7H448.1M445.3,228H448.1M465.2,234.3v2.6M497.0,234.3v2.6" stroke="#2b2b2b" stroke-width="1.1"/>
<g font-size="7.1" fill="#333" text-anchor="end"><text x="441.8" y="196">24</text><text x="441.8" y="207.3">20</text><text x="441.8" y="218.9">16</text><text x="441.8" y="230.2">12</text></g>
<text transform="translate(424.2,208) rotate(-90)" font-size="8.2" fill="#333" text-anchor="middle" textLength="27.7" lengthAdjust="spacingAndGlyphs">RDW (%)</text>
<g font-size="6.8" fill="#333" text-anchor="middle"><text x="465.2" y="247.5">Cluster A</text><text x="497.0" y="247.5">Cluster B</text></g>
<path d="M459.4,187.8C459.54,188.83 459.86,191.43 460.2,193.5C460.54,195.57 460.96,197.21 461.3,199.3C461.64,201.39 461.76,203.03 462.1,205.1C462.44,207.17 462.79,208.73 463.2,210.8C463.61,212.87 464.08,214.51 464.4,216.6C464.72,218.69 465.22,220.53 465,222.4C464.78,224.27 464.21,225.54 463.2,227C462.19,228.46 460.08,229.87 459.4,230.5L459,230.5C458.32,229.87 456.21,228.46 455.2,227C454.19,225.54 453.62,224.27 453.4,222.4C453.18,220.53 453.68,218.69 454,216.6C454.32,214.51 454.79,212.87 455.2,210.8C455.61,208.73 455.96,207.17 456.3,205.1C456.64,203.03 456.76,201.39 457.1,199.3C457.44,197.21 457.86,195.57 458.2,193.5C458.54,191.43 458.86,188.83 459,187.8Z" fill="#a88a69" stroke="#4a3826" stroke-width="0.7" stroke-linejoin="round"/>
<path d="M459.31,187.8C459.39,188.83 459.56,191.43 459.75,193.5C459.94,195.57 460.17,197.21 460.36,199.3C460.54,201.39 460.61,203.03 460.79,205.1C460.98,207.17 461.17,208.73 461.4,210.8C461.63,212.87 461.88,214.51 462.06,216.6C462.24,218.69 462.51,220.53 462.39,222.4C462.27,224.27 461.95,225.54 461.4,227C460.85,228.46 459.69,229.87 459.31,230.5L459.09,230.5C458.71,229.87 457.55,228.46 457,227C456.45,225.54 456.13,224.27 456.01,222.4C455.89,220.53 456.16,218.69 456.34,216.6C456.52,214.51 456.77,212.87 457,210.8C457.23,208.73 457.42,207.17 457.61,205.1C457.79,203.03 457.86,201.39 458.04,199.3C458.23,197.21 458.46,195.57 458.65,193.5C458.84,191.43 459.01,188.83 459.09,187.8Z" fill="none" stroke="#4a3826" stroke-width="0.35" stroke-opacity="0.6"/>
<path d="M459.2,187.8V230.5" stroke="#2e2a26" stroke-width="0.6"/>
<rect x="458.05" y="210.8" width="2.3" height="11.6" fill="#c9ad89" stroke="#6a3f14" stroke-width="0.6"/>
<path d="M457.85,218.9H460.55" stroke="#3a2410" stroke-width="1.1"/>
<path d="M471.2,186C471.34,188.39 471.78,195.86 472,199.3C472.22,202.74 472.22,203.23 472.4,205.1C472.58,206.97 472.59,208.04 473,209.7C473.41,211.36 474,212.43 474.7,214.3C475.4,216.17 476.9,218.23 476.9,220.1C476.9,221.97 475.73,222.94 474.7,224.7C473.67,226.46 471.83,228.96 471.2,229.9L470.8,229.9C470.17,228.96 468.33,226.46 467.3,224.7C466.27,222.94 465.1,221.97 465.1,220.1C465.1,218.23 466.6,216.17 467.3,214.3C468,212.43 468.59,211.36 469,209.7C469.41,208.04 469.42,206.97 469.6,205.1C469.78,203.23 469.78,202.74 470,199.3C470.22,195.86 470.66,188.39 470.8,186Z" fill="#d4d2f0" stroke="#46467a" stroke-width="0.7" stroke-linejoin="round"/>
<path d="M471.11,186C471.19,188.39 471.43,195.86 471.55,199.3C471.67,202.74 471.67,203.23 471.77,205.1C471.87,206.97 471.87,208.04 472.1,209.7C472.33,211.36 472.65,212.43 473.03,214.3C473.42,216.17 474.25,218.23 474.25,220.1C474.25,221.97 473.6,222.94 473.03,224.7C472.47,226.46 471.46,228.96 471.11,229.9L470.89,229.9C470.54,228.96 469.53,226.46 468.97,224.7C468.4,222.94 467.75,221.97 467.75,220.1C467.75,218.23 468.58,216.17 468.97,214.3C469.35,212.43 469.67,211.36 469.9,209.7C470.13,208.04 470.13,206.97 470.23,205.1C470.33,203.23 470.33,202.74 470.45,199.3C470.57,195.86 470.81,188.39 470.89,186Z" fill="none" stroke="#46467a" stroke-width="0.35" stroke-opacity="0.6"/>
<path d="M471,186V229.9" stroke="#2c2c44" stroke-width="0.6"/>
<rect x="469.85" y="216.6" width="2.3" height="6.4" fill="#eeeefc" stroke="#3c3c8c" stroke-width="0.6"/>
<path d="M469.65,220.7H472.35" stroke="#20205a" stroke-width="1.1"/>
<path d="M492.3,207.6C492.3,209.22 491.83,214.76 492.32,216.6C492.81,218.44 494.1,216.97 495,217.8C495.9,218.63 496.85,219.96 497.3,221.2C497.75,222.44 497.91,223.44 497.5,224.7C497.09,225.96 495.94,227.16 495,228.2C494.06,229.24 492.79,230.09 492.3,230.5L491.9,230.5C491.41,230.09 490.14,229.24 489.2,228.2C488.26,227.16 487.11,225.96 486.7,224.7C486.29,223.44 486.45,222.44 486.9,221.2C487.35,219.96 488.3,218.63 489.2,217.8C490.1,216.97 491.39,218.44 491.88,216.6C492.37,214.76 491.9,209.22 491.9,207.6Z" fill="#a88a69" stroke="#4a3826" stroke-width="0.7" stroke-linejoin="round"/>
<path d="M492.21,207.6C492.21,209.22 491.95,214.76 492.22,216.6C492.49,218.44 493.2,216.97 493.69,217.8C494.19,218.63 494.71,219.96 494.96,221.2C495.21,222.44 495.3,223.44 495.07,224.7C494.84,225.96 494.21,227.16 493.69,228.2C493.18,229.24 492.48,230.09 492.21,230.5L491.99,230.5C491.72,230.09 491.02,229.24 490.51,228.2C489.99,227.16 489.36,225.96 489.13,224.7C488.9,223.44 488.99,222.44 489.24,221.2C489.49,219.96 490.01,218.63 490.51,217.8C491,216.97 491.71,218.44 491.98,216.6C492.25,214.76 491.99,209.22 491.99,207.6Z" fill="none" stroke="#4a3826" stroke-width="0.35" stroke-opacity="0.6"/>
<path d="M492.1,207.6V230.5" stroke="#2e2a26" stroke-width="0.6"/>
<rect x="490.6" y="221.8" width="3" height="5.2" fill="#c9ad89" stroke="#6a3f14" stroke-width="0.6"/>
<path d="M490.4,224.1H493.8" stroke="#3a2410" stroke-width="1.1"/>
<path d="M503.6,214.3C503.78,214.71 504.22,215.36 504.6,216.6C504.98,217.84 504.98,219.74 505.7,221.2C506.42,222.66 508.29,223.66 508.6,224.7C508.91,225.74 508.3,226.06 507.4,227C506.5,227.94 504.28,229.38 503.6,229.9L503.2,229.9C502.52,229.38 500.3,227.94 499.4,227C498.5,226.06 497.89,225.74 498.2,224.7C498.51,223.66 500.38,222.66 501.1,221.2C501.82,219.74 501.82,217.84 502.2,216.6C502.58,215.36 503.02,214.71 503.2,214.3Z" fill="#d4d2f0" stroke="#46467a" stroke-width="0.7" stroke-linejoin="round"/>
<path d="M503.51,214.3C503.61,214.71 503.85,215.36 504.06,216.6C504.27,217.84 504.27,219.74 504.66,221.2C505.06,222.66 506.09,223.66 506.26,224.7C506.43,225.74 506.09,226.06 505.6,227C505.1,227.94 503.89,229.38 503.51,229.9L503.29,229.9C502.91,229.38 501.69,227.94 501.2,227C500.7,226.06 500.37,225.74 500.54,224.7C500.71,223.66 501.74,222.66 502.13,221.2C502.53,219.74 502.53,217.84 502.74,216.6C502.95,215.36 503.19,214.71 503.29,214.3Z" fill="none" stroke="#46467a" stroke-width="0.35" stroke-opacity="0.6"/>
<path d="M503.4,214.3V229.9" stroke="#2c2c44" stroke-width="0.6"/>
<rect x="502.4" y="221.8" width="2" height="5.2" fill="#eeeefc" stroke="#3c3c8c" stroke-width="0.6"/>
<path d="M502.2,225.3H504.6" stroke="#20205a" stroke-width="1.1"/>
<path d="M339.2,265.8V315.9H403.0" fill="none" stroke="#2b2b2b" stroke-width="1.35"/>
<path d="M336.4,273.2H339.2M336.4,284.8H339.2M336.4,296.5H339.2M336.4,308.3H339.2M355.9,315.9v2.6M387.6,315.9v2.6" stroke="#2b2b2b" stroke-width="1.1"/>
<g font-size="7.1" fill="#333" text-anchor="end"><text x="332.9" y="275.4">7</text><text x="332.9" y="287">5</text><text x="332.9" y="298.7">3</text><text x="332.9" y="310.5">1</text></g>
<text transform="translate(310.1,291) rotate(-90)" font-size="8.2" fill="#333" text-anchor="middle" textLength="72.7" lengthAdjust="spacingAndGlyphs">Neutrophils (×10³/mL)</text>
<g font-size="6.8" fill="#333" text-anchor="middle"><text x="355.9" y="329">Cluster A</text><text x="387.6" y="329">Cluster B</text></g>
<path d="M350.4,273.2C350.4,277.77 350.2,293.61 350.42,298.6C350.64,303.59 351.06,299.86 351.6,300.9C352.14,301.94 352.77,302.94 353.4,304.4C354.03,305.86 354.6,307.54 355.1,309C355.6,310.46 356.18,311.67 356.2,312.5C356.22,313.33 355.38,313.4 355.2,313.6L345.2,313.6C345.02,313.4 344.18,313.33 344.2,312.5C344.22,311.67 344.8,310.46 345.3,309C345.8,307.54 346.37,305.86 347,304.4C347.63,302.94 348.26,301.94 348.8,300.9C349.34,299.86 349.76,303.59 349.98,298.6C350.2,293.61 350,277.77 350,273.2Z" fill="#a88a69" stroke="#4a3826" stroke-width="0.7" stroke-linejoin="round"/>
<path d="M350.31,273.2C350.31,277.77 350.2,293.61 350.32,298.6C350.44,303.59 350.67,299.86 350.97,300.9C351.27,301.94 351.61,302.94 351.96,304.4C352.31,305.86 352.62,307.54 352.89,309C353.17,310.46 353.49,311.67 353.5,312.5C353.51,313.33 353.05,313.4 352.95,313.6L347.45,313.6C347.35,313.4 346.89,313.33 346.9,312.5C346.91,311.67 347.23,310.46 347.5,309C347.78,307.54 348.09,305.86 348.44,304.4C348.79,302.94 349.13,301.94 349.43,300.9C349.73,299.86 349.96,303.59 350.08,298.6C350.2,293.61 350.09,277.77 350.09,273.2Z" fill="none" stroke="#4a3826" stroke-width="0.35" stroke-opacity="0.6"/>
<path d="M350.2,273.2V313.6" stroke="#2e2a26" stroke-width="0.6"/>
<rect x="349.05" y="307.3" width="2.3" height="5.2" fill="#c9ad89" stroke="#6a3f14" stroke-width="0.6"/>
<path d="M348.85,310.2H351.55" stroke="#3a2410" stroke-width="1.1"/>
<path d="M361.9,268C361.9,273.72 361.6,293.68 361.92,299.8C362.24,305.92 362.97,300.97 363.7,302C364.43,303.03 365.3,304.35 366,305.5C366.7,306.65 367.74,307.36 367.6,308.4C367.46,309.44 366.23,310.4 365.2,311.3C364.17,312.2 362.49,313.02 361.9,313.4L361.5,313.4C360.91,313.02 359.23,312.2 358.2,311.3C357.17,310.4 355.94,309.44 355.8,308.4C355.66,307.36 356.7,306.65 357.4,305.5C358.1,304.35 358.97,303.03 359.7,302C360.43,300.97 361.16,305.92 361.48,299.8C361.8,293.68 361.5,273.72 361.5,268Z" fill="#d4d2f0" stroke="#46467a" stroke-width="0.7" stroke-linejoin="round"/>
<path d="M361.81,268C361.81,273.72 361.64,293.68 361.82,299.8C362,305.92 362.4,300.97 362.8,302C363.2,303.03 363.68,304.35 364.06,305.5C364.45,306.65 365.02,307.36 364.94,308.4C364.87,309.44 364.19,310.4 363.62,311.3C363.06,312.2 362.14,313.02 361.81,313.4L361.59,313.4C361.26,313.02 360.34,312.2 359.77,311.3C359.21,310.4 358.53,309.44 358.45,308.4C358.38,307.36 358.95,306.65 359.33,305.5C359.72,304.35 360.2,303.03 360.6,302C361,300.97 361.4,305.92 361.58,299.8C361.76,293.68 361.59,273.72 361.59,268Z" fill="none" stroke="#46467a" stroke-width="0.35" stroke-opacity="0.6"/>
<path d="M361.7,268V313.4" stroke="#2c2c44" stroke-width="0.6"/>
<rect x="360.55" y="305.5" width="2.3" height="4.1" fill="#eeeefc" stroke="#3c3c8c" stroke-width="0.6"/>
<path d="M360.35,307.6H363.05" stroke="#20205a" stroke-width="1.1"/>
<path d="M383.9,281.9C383.99,282.84 384.17,285.14 384.4,287.1C384.63,289.06 384.95,290.73 385.2,292.8C385.45,294.87 385.51,296.51 385.8,298.6C386.09,300.69 386.35,302.53 386.8,304.4C387.25,306.27 387.99,307.54 388.3,309C388.61,310.46 388.64,311.71 388.5,312.5C388.36,313.29 387.68,313.24 387.5,313.4L377.5,313.4C377.32,313.24 376.64,313.29 376.5,312.5C376.36,311.71 376.39,310.46 376.7,309C377.01,307.54 377.75,306.27 378.2,304.4C378.65,302.53 378.91,300.69 379.2,298.6C379.49,296.51 379.55,294.87 379.8,292.8C380.05,290.73 380.37,289.06 380.6,287.1C380.83,285.14 381.01,282.84 381.1,281.9Z" fill="#a88a69" stroke="#4a3826" stroke-width="0.7" stroke-linejoin="round"/>
<path d="M383.27,281.9C383.32,282.84 383.42,285.14 383.54,287.1C383.67,289.06 383.85,290.73 383.99,292.8C384.12,294.87 384.16,296.51 384.31,298.6C384.47,300.69 384.62,302.53 384.87,304.4C385.11,306.27 385.52,307.54 385.69,309C385.86,310.46 385.88,311.71 385.8,312.5C385.72,313.29 385.35,313.24 385.25,313.4L379.75,313.4C379.65,313.24 379.28,313.29 379.2,312.5C379.12,311.71 379.14,310.46 379.31,309C379.48,307.54 379.89,306.27 380.13,304.4C380.38,302.53 380.53,300.69 380.69,298.6C380.84,296.51 380.88,294.87 381.01,292.8C381.15,290.73 381.33,289.06 381.46,287.1C381.58,285.14 381.68,282.84 381.73,281.9Z" fill="none" stroke="#4a3826" stroke-width="0.35" stroke-opacity="0.6"/>
<path d="M382.5,281.9V313.4" stroke="#2e2a26" stroke-width="0.6"/>
<rect x="381.35" y="303.2" width="2.3" height="7" fill="#c9ad89" stroke="#6a3f14" stroke-width="0.6"/>
<path d="M381.15,308.4H383.85" stroke="#3a2410" stroke-width="1.1"/>
<path d="M393.9,284.8C393.9,285.02 393.92,285.24 393.92,286C393.92,286.76 393.73,288.19 393.92,289C394.11,289.81 394.72,289.19 395,290.5C395.28,291.81 395.21,294.43 395.5,296.3C395.79,298.17 395.99,299.24 396.6,300.9C397.21,302.56 398.59,304.04 398.9,305.5C399.21,306.96 398.88,307.85 398.3,309C397.72,310.15 396.17,311.38 395.7,311.9L391.7,311.9C391.23,311.38 389.68,310.15 389.1,309C388.52,307.85 388.19,306.96 388.5,305.5C388.81,304.04 390.19,302.56 390.8,300.9C391.41,299.24 391.61,298.17 391.9,296.3C392.19,294.43 392.12,291.81 392.4,290.5C392.68,289.19 393.29,289.81 393.48,289C393.67,288.19 393.48,286.76 393.48,286C393.48,285.24 393.5,285.02 393.5,284.8Z" fill="#d4d2f0" stroke="#46467a" stroke-width="0.7" stroke-linejoin="round"/>
<path d="M393.81,284.8C393.81,285.02 393.82,285.24 393.82,286C393.82,286.76 393.71,288.19 393.82,289C393.93,289.81 394.26,289.19 394.42,290.5C394.57,291.81 394.53,294.43 394.69,296.3C394.85,298.17 394.96,299.24 395.29,300.9C395.63,302.56 396.39,304.04 396.56,305.5C396.73,306.96 396.55,307.85 396.23,309C395.91,310.15 395.06,311.38 394.8,311.9L392.6,311.9C392.34,311.38 391.49,310.15 391.17,309C390.85,307.85 390.67,306.96 390.84,305.5C391.01,304.04 391.77,302.56 392.11,300.9C392.44,299.24 392.55,298.17 392.71,296.3C392.87,294.43 392.83,291.81 392.98,290.5C393.14,289.19 393.47,289.81 393.58,289C393.69,288.19 393.58,286.76 393.58,286C393.58,285.24 393.59,285.02 393.59,284.8Z" fill="none" stroke="#46467a" stroke-width="0.35" stroke-opacity="0.6"/>
<path d="M393.7,284.8V311.9" stroke="#2c2c44" stroke-width="0.6"/>
<rect x="392.55" y="303.2" width="2.3" height="5.8" fill="#eeeefc" stroke="#3c3c8c" stroke-width="0.6"/>
<path d="M392.35,306.1H395.05" stroke="#20205a" stroke-width="1.1"/>
<path d="M448.1,266V315.8H512.5" fill="none" stroke="#2b2b2b" stroke-width="1.35"/>
<path d="M445.3,268.3H448.1M445.3,281.5H448.1M445.3,294.8H448.1M445.3,308H448.1M465.2,315.8v2.6M497.0,315.8v2.6" stroke="#2b2b2b" stroke-width="1.1"/>
<g font-size="7.1" fill="#333" text-anchor="end"><text x="441.8" y="270.5">7</text><text x="441.8" y="283.7">5</text><text x="441.8" y="297">3</text><text x="441.8" y="310.2">1</text></g>
<text transform="translate(424.2,291) rotate(-90)" font-size="8.2" fill="#333" text-anchor="middle" textLength="75" lengthAdjust="spacingAndGlyphs">Lymphocytes (×10³/mL)</text>
<g font-size="6.8" fill="#333" text-anchor="middle"><text x="465.2" y="328.9">Cluster A</text><text x="497.0" y="328.9">Cluster B</text></g>
<path d="M459.7,268C459.7,272.9 459.4,289.89 459.72,295.2C460.04,300.51 460.78,296.47 461.5,297.5C462.22,298.53 463.09,299.66 463.7,300.9C464.31,302.14 464.95,303.16 464.9,304.4C464.85,305.64 464.01,306.56 463.4,307.8C462.79,309.04 462.17,310.36 461.5,311.3C460.83,312.24 460.02,312.69 459.7,313L459.3,313C458.98,312.69 458.17,312.24 457.5,311.3C456.83,310.36 456.21,309.04 455.6,307.8C454.99,306.56 454.15,305.64 454.1,304.4C454.05,303.16 454.69,302.14 455.3,300.9C455.91,299.66 456.78,298.53 457.5,297.5C458.22,296.47 458.96,300.51 459.28,295.2C459.6,289.89 459.3,272.9 459.3,268Z" fill="#a88a69" stroke="#4a3826" stroke-width="0.7" stroke-linejoin="round"/>
<path d="M459.61,268C459.61,272.9 459.44,289.89 459.62,295.2C459.8,300.51 460.21,296.47 460.6,297.5C460.99,298.53 461.47,299.66 461.81,300.9C462.15,302.14 462.5,303.16 462.47,304.4C462.44,305.64 461.98,306.56 461.64,307.8C461.31,309.04 460.97,310.36 460.6,311.3C460.23,312.24 459.79,312.69 459.61,313L459.39,313C459.21,312.69 458.77,312.24 458.4,311.3C458.03,310.36 457.69,309.04 457.36,307.8C457.02,306.56 456.56,305.64 456.53,304.4C456.5,303.16 456.85,302.14 457.19,300.9C457.53,299.66 458.01,298.53 458.4,297.5C458.79,296.47 459.2,300.51 459.38,295.2C459.56,289.89 459.39,272.9 459.39,268Z" fill="none" stroke="#4a3826" stroke-width="0.35" stroke-opacity="0.6"/>
<path d="M459.5,268V313" stroke="#2e2a26" stroke-width="0.6"/>
<rect x="458.35" y="302.1" width="2.3" height="5.2" fill="#c9ad89" stroke="#6a3f14" stroke-width="0.6"/>
<path d="M458.15,304.6H460.85" stroke="#3a2410" stroke-width="1.1"/>
<path d="M471,285.9C471,287.77 470.64,294.01 471.02,296.3C471.4,298.59 472.42,297.56 473.1,298.6C473.78,299.64 474.24,300.86 474.8,302.1C475.36,303.34 476.2,304.26 476.2,305.5C476.2,306.74 475.74,307.85 474.8,309C473.86,310.15 471.68,311.38 471,311.9L470.6,311.9C469.92,311.38 467.74,310.15 466.8,309C465.86,307.85 465.4,306.74 465.4,305.5C465.4,304.26 466.24,303.34 466.8,302.1C467.36,300.86 467.82,299.64 468.5,298.6C469.18,297.56 470.2,298.59 470.58,296.3C470.96,294.01 470.6,287.77 470.6,285.9Z" fill="#d4d2f0" stroke="#46467a" stroke-width="0.7" stroke-linejoin="round"/>
<path d="M470.91,285.9C470.91,287.77 470.71,294.01 470.92,296.3C471.13,298.59 471.69,297.56 472.06,298.6C472.44,299.64 472.69,300.86 473,302.1C473.31,303.34 473.77,304.26 473.77,305.5C473.77,306.74 473.51,307.85 473,309C472.49,310.15 471.29,311.38 470.91,311.9L470.69,311.9C470.31,311.38 469.11,310.15 468.6,309C468.09,307.85 467.83,306.74 467.83,305.5C467.83,304.26 468.29,303.34 468.6,302.1C468.91,300.86 469.16,299.64 469.54,298.6C469.91,297.56 470.47,298.59 470.68,296.3C470.89,294.01 470.69,287.77 470.69,285.9Z" fill="none" stroke="#46467a" stroke-width="0.35" stroke-opacity="0.6"/>
<path d="M470.8,285.9V311.9" stroke="#2c2c44" stroke-width="0.6"/>
<rect x="469.65" y="303.2" width="2.3" height="5.2" fill="#eeeefc" stroke="#3c3c8c" stroke-width="0.6"/>
<path d="M469.45,305.8H472.15" stroke="#20205a" stroke-width="1.1"/>
<path d="M494.4,295.7C494.71,296.02 495.63,296.35 496.1,297.5C496.57,298.65 497,300.44 497,302.1C497,303.76 496.68,305.24 496.1,306.7C495.52,308.16 494.59,309.07 493.8,310.2C493.01,311.33 492.08,312.5 491.7,313L491.3,313C490.92,312.5 489.99,311.33 489.2,310.2C488.41,309.07 487.48,308.16 486.9,306.7C486.32,305.24 486,303.76 486,302.1C486,300.44 486.43,298.65 486.9,297.5C487.37,296.35 488.29,296.02 488.6,295.7Z" fill="#a88a69" stroke="#4a3826" stroke-width="0.7" stroke-linejoin="round"/>
<path d="M493.09,295.7C493.26,296.02 493.77,296.35 494.03,297.5C494.29,298.65 494.52,300.44 494.52,302.1C494.52,303.76 494.35,305.24 494.03,306.7C493.71,308.16 493.2,309.07 492.76,310.2C492.33,311.33 491.82,312.5 491.61,313L491.39,313C491.18,312.5 490.67,311.33 490.24,310.2C489.8,309.07 489.29,308.16 488.97,306.7C488.65,305.24 488.48,303.76 488.48,302.1C488.48,300.44 488.71,298.65 488.97,297.5C489.23,296.35 489.74,296.02 489.91,295.7Z" fill="none" stroke="#4a3826" stroke-width="0.35" stroke-opacity="0.6"/>
<path d="M491.5,295.7V313" stroke="#2e2a26" stroke-width="0.6"/>
<rect x="490.35" y="300.9" width="2.3" height="5.8" fill="#c9ad89" stroke="#6a3f14" stroke-width="0.6"/>
<path d="M490.15,302.7H492.85" stroke="#3a2410" stroke-width="1.1"/>
<path d="M503.6,288.8C503.6,288.93 503.3,288.78 503.62,289.5C503.94,290.22 504.76,291.36 505.4,292.8C506.04,294.24 506.56,295.83 507.15,297.5C507.74,299.17 508.46,300.44 508.7,302.1C508.94,303.76 508.93,305.24 508.5,306.7C508.07,308.16 507.18,309.16 506.3,310.2C505.42,311.24 504.09,312.09 503.6,312.5L503.2,312.5C502.71,312.09 501.38,311.24 500.5,310.2C499.62,309.16 498.73,308.16 498.3,306.7C497.87,305.24 497.86,303.76 498.1,302.1C498.34,300.44 499.06,299.17 499.65,297.5C500.24,295.83 500.76,294.24 501.4,292.8C502.04,291.36 502.86,290.22 503.18,289.5C503.5,288.78 503.2,288.93 503.2,288.8Z" fill="#d4d2f0" stroke="#46467a" stroke-width="0.7" stroke-linejoin="round"/>
<path d="M503.51,288.8C503.51,288.93 503.34,288.78 503.52,289.5C503.7,290.22 504.15,291.36 504.5,292.8C504.85,294.24 505.14,295.83 505.46,297.5C505.79,299.17 506.18,300.44 506.31,302.1C506.45,303.76 506.44,305.24 506.2,306.7C505.97,308.16 505.48,309.16 504.99,310.2C504.51,311.24 503.78,312.09 503.51,312.5L503.29,312.5C503.02,312.09 502.29,311.24 501.81,310.2C501.32,309.16 500.83,308.16 500.59,306.7C500.36,305.24 500.35,303.76 500.48,302.1C500.62,300.44 501.01,299.17 501.34,297.5C501.66,295.83 501.95,294.24 502.3,292.8C502.65,291.36 503.1,290.22 503.28,289.5C503.46,288.78 503.29,288.93 503.29,288.8Z" fill="none" stroke="#46467a" stroke-width="0.35" stroke-opacity="0.6"/>
<path d="M503.4,288.8V312.5" stroke="#2c2c44" stroke-width="0.6"/>
<rect x="502.25" y="299.8" width="2.3" height="8" fill="#eeeefc" stroke="#3c3c8c" stroke-width="0.6"/>
<path d="M502.05,303.2H504.75" stroke="#20205a" stroke-width="1.1"/>
<path d="M339.2,348.7V397.8H403.0" fill="none" stroke="#2b2b2b" stroke-width="1.35"/>
<path d="M336.4,353.8H339.2M336.4,364.4H339.2M336.4,375.6H339.2M336.4,386.2H339.2M336.4,397.1H339.2M355.9,397.8v2.6M387.6,397.8v2.6" stroke="#2b2b2b" stroke-width="1.1"/>
<g font-size="7.1" fill="#333" text-anchor="end"><text x="332.9" y="356">0.100</text><text x="332.9" y="366.6">0.075</text><text x="332.9" y="377.8">0.050</text><text x="332.9" y="388.4">0.025</text><text x="332.9" y="399.3">0.000</text></g>
<text transform="translate(310.1,373.3) rotate(-90)" font-size="8.2" fill="#333" text-anchor="middle" textLength="65.8" lengthAdjust="spacingAndGlyphs">Basophils (×10³/mL)</text>
<g font-size="6.8" fill="#333" text-anchor="middle"><text x="355.9" y="411.6">Cluster A</text><text x="387.6" y="411.6">Cluster B</text></g>
<path d="M351.2,366.7C351.2,370.89 351.04,385.54 351.22,390C351.4,394.46 351.72,390.82 352.2,391.5C352.68,392.18 353.41,392.95 353.9,393.8C354.39,394.65 354.79,395.68 354.9,396.2C355.01,396.72 354.57,396.61 354.5,396.7L347.5,396.7C347.43,396.61 346.99,396.72 347.1,396.2C347.21,395.68 347.61,394.65 348.1,393.8C348.59,392.95 349.32,392.18 349.8,391.5C350.28,390.82 350.6,394.46 350.78,390C350.96,385.54 350.8,370.89 350.8,366.7Z" fill="#a88a69" stroke="#4a3826" stroke-width="0.7" stroke-linejoin="round"/>
<path d="M351.11,366.7C351.11,370.89 351.02,385.54 351.12,390C351.22,394.46 351.39,390.82 351.66,391.5C351.93,392.18 352.33,392.95 352.59,393.8C352.86,394.65 353.09,395.68 353.14,396.2C353.2,396.72 352.96,396.61 352.93,396.7L349.07,396.7C349.04,396.61 348.8,396.72 348.86,396.2C348.91,395.68 349.14,394.65 349.41,393.8C349.67,392.95 350.07,392.18 350.34,391.5C350.61,390.82 350.78,394.46 350.88,390C350.98,385.54 350.89,370.89 350.89,366.7Z" fill="none" stroke="#4a3826" stroke-width="0.35" stroke-opacity="0.6"/>
<path d="M351,366.7V396.7" stroke="#2e2a26" stroke-width="0.6"/>
<rect x="350" y="392" width="2" height="4" fill="#c9ad89" stroke="#6a3f14" stroke-width="0.6"/>
<path d="M349.8,394H352.2" stroke="#3a2410" stroke-width="1.1"/>
<path d="M361.3,366.7C361.3,369.51 361.07,379.08 361.32,382.3C361.57,385.52 362.16,383.56 362.7,384.6C363.24,385.64 363.72,386.86 364.3,388.1C364.88,389.34 365.52,390.26 365.9,391.5C366.28,392.74 366.45,394.06 366.4,395C366.35,395.94 365.74,396.39 365.6,396.7L356.6,396.7C356.46,396.39 355.85,395.94 355.8,395C355.75,394.06 355.92,392.74 356.3,391.5C356.68,390.26 357.32,389.34 357.9,388.1C358.48,386.86 358.96,385.64 359.5,384.6C360.04,383.56 360.63,385.52 360.88,382.3C361.13,379.08 360.9,369.51 360.9,366.7Z" fill="#d4d2f0" stroke="#46467a" stroke-width="0.7" stroke-linejoin="round"/>
<path d="M361.21,366.7C361.21,369.51 361.08,379.08 361.22,382.3C361.36,385.52 361.68,383.56 361.98,384.6C362.28,385.64 362.54,386.86 362.86,388.1C363.18,389.34 363.53,390.26 363.74,391.5C363.95,392.74 364.04,394.06 364.02,395C363.99,395.94 363.65,396.39 363.58,396.7L358.62,396.7C358.55,396.39 358.21,395.94 358.19,395C358.16,394.06 358.25,392.74 358.46,391.5C358.67,390.26 359.02,389.34 359.34,388.1C359.66,386.86 359.92,385.64 360.22,384.6C360.52,383.56 360.84,385.52 360.98,382.3C361.12,379.08 360.99,369.51 360.99,366.7Z" fill="none" stroke="#46467a" stroke-width="0.35" stroke-opacity="0.6"/>
<path d="M361.1,366.7V396.7" stroke="#2c2c44" stroke-width="0.6"/>
<rect x="359.9" y="391" width="2.4" height="5.2" fill="#eeeefc" stroke="#3c3c8c" stroke-width="0.6"/>
<path d="M359.7,392.7H362.5" stroke="#20205a" stroke-width="1.1"/>
<path d="M384.6,362.1C384.65,363.04 384.72,365.32 384.9,367.3C385.08,369.28 385.17,371.03 385.6,373.1C386.03,375.17 386.81,376.73 387.3,378.8C387.79,380.87 388.08,382.51 388.3,384.6C388.52,386.69 388.63,388.53 388.5,390.4C388.37,392.27 388,393.87 387.6,395C387.2,396.13 386.53,396.39 386.3,396.7L380.3,396.7C380.07,396.39 379.4,396.13 379,395C378.6,393.87 378.23,392.27 378.1,390.4C377.97,388.53 378.08,386.69 378.3,384.6C378.52,382.51 378.81,380.87 379.3,378.8C379.79,376.73 380.57,375.17 381,373.1C381.43,371.03 381.52,369.28 381.7,367.3C381.88,365.32 381.95,363.04 382,362.1Z" fill="#a88a69" stroke="#4a3826" stroke-width="0.7" stroke-linejoin="round"/>
<path d="M384.02,362.1C384.04,363.04 384.08,365.32 384.18,367.3C384.28,369.28 384.33,371.03 384.56,373.1C384.8,375.17 385.23,376.73 385.5,378.8C385.77,380.87 385.93,382.51 386.05,384.6C386.17,386.69 386.23,388.53 386.16,390.4C386.09,392.27 385.88,393.87 385.67,395C385.45,396.13 385.08,396.39 384.95,396.7L381.65,396.7C381.52,396.39 381.15,396.13 380.94,395C380.72,393.87 380.51,392.27 380.44,390.4C380.37,388.53 380.43,386.69 380.55,384.6C380.67,382.51 380.83,380.87 381.1,378.8C381.37,376.73 381.8,375.17 382.04,373.1C382.27,371.03 382.32,369.28 382.42,367.3C382.52,365.32 382.56,363.04 382.58,362.1Z" fill="none" stroke="#4a3826" stroke-width="0.35" stroke-opacity="0.6"/>
<path d="M383.3,362.1V396.7" stroke="#2e2a26" stroke-width="0.6"/>
<rect x="381.6" y="380.6" width="3.4" height="9.8" fill="#c9ad89" stroke="#6a3f14" stroke-width="0.6"/>
<path d="M381.4,385.8H385.2" stroke="#3a2410" stroke-width="1.1"/>
<path d="M393.9,362.1C393.9,365.11 393.67,375.16 393.92,378.8C394.17,382.44 394.78,380.84 395.3,382.3C395.82,383.76 396.26,385.24 396.8,386.9C397.34,388.56 398.03,390.04 398.3,391.5C398.57,392.96 398.5,394.06 398.3,395C398.1,395.94 397.4,396.39 397.2,396.7L390.2,396.7C390,396.39 389.3,395.94 389.1,395C388.9,394.06 388.83,392.96 389.1,391.5C389.37,390.04 390.06,388.56 390.6,386.9C391.14,385.24 391.58,383.76 392.1,382.3C392.62,380.84 393.23,382.44 393.48,378.8C393.73,375.16 393.5,365.11 393.5,362.1Z" fill="#d4d2f0" stroke="#46467a" stroke-width="0.7" stroke-linejoin="round"/>
<path d="M393.81,362.1C393.81,365.11 393.68,375.16 393.82,378.8C393.96,382.44 394.29,380.84 394.58,382.3C394.87,383.76 395.11,385.24 395.41,386.9C395.7,388.56 396.08,390.04 396.23,391.5C396.38,392.96 396.34,394.06 396.23,395C396.12,395.94 395.73,396.39 395.62,396.7L391.77,396.7C391.67,396.39 391.28,395.94 391.17,395C391.06,394.06 391.02,392.96 391.17,391.5C391.32,390.04 391.7,388.56 391.99,386.9C392.29,385.24 392.53,383.76 392.82,382.3C393.11,380.84 393.44,382.44 393.58,378.8C393.72,375.16 393.59,365.11 393.59,362.1Z" fill="none" stroke="#46467a" stroke-width="0.35" stroke-opacity="0.6"/>
<path d="M393.7,362.1V396.7" stroke="#2c2c44" stroke-width="0.6"/>
<rect x="392.2" y="389.2" width="3" height="6.4" fill="#eeeefc" stroke="#3c3c8c" stroke-width="0.6"/>
<path d="M392,392.5H395.4" stroke="#20205a" stroke-width="1.1"/>
<path d="M448.1,348.8V398.4H512.5" fill="none" stroke="#2b2b2b" stroke-width="1.35"/>
<path d="M445.3,352.8H448.1M445.3,367.8H448.1M445.3,382.9H448.1M445.3,397.9H448.1M465.2,398.4v2.6M497.0,398.4v2.6" stroke="#2b2b2b" stroke-width="1.1"/>
<g font-size="7.1" fill="#333" text-anchor="end"><text x="441.8" y="355">150</text><text x="441.8" y="370">100</text><text x="441.8" y="385.1">50</text><text x="441.8" y="400.1">0</text></g>
<text transform="translate(424.2,373.9) rotate(-90)" font-size="8.2" fill="#333" text-anchor="middle" textLength="48.5" lengthAdjust="spacingAndGlyphs">ARC (×10³/mL)</text>
<g font-size="6.8" fill="#333" text-anchor="middle"><text x="465.2" y="412.3">Cluster A</text><text x="497.0" y="412.3">Cluster B</text></g>
<path d="M459.7,351.5C459.7,353.98 459.4,361.77 459.72,365.3C460.04,368.83 460.98,369.03 461.5,371.1C462.02,373.17 462.31,374.73 462.6,376.8C462.89,378.87 462.83,380.51 463.1,382.6C463.37,384.69 463.7,386.74 464.1,388.4C464.5,390.06 465.19,390.56 465.3,391.8C465.41,393.04 465.02,394.45 464.7,395.3C464.38,396.15 463.72,396.28 463.5,396.5L455.5,396.5C455.28,396.28 454.62,396.15 454.3,395.3C453.98,394.45 453.59,393.04 453.7,391.8C453.81,390.56 454.5,390.06 454.9,388.4C455.3,386.74 455.63,384.69 455.9,382.6C456.17,380.51 456.11,378.87 456.4,376.8C456.69,374.73 456.98,373.17 457.5,371.1C458.02,369.03 458.96,368.83 459.28,365.3C459.6,361.77 459.3,353.98 459.3,351.5Z" fill="#a88a69" stroke="#4a3826" stroke-width="0.7" stroke-linejoin="round"/>
<path d="M459.61,351.5C459.61,353.98 459.44,361.77 459.62,365.3C459.8,368.83 460.31,369.03 460.6,371.1C460.89,373.17 461.05,374.73 461.21,376.8C461.36,378.87 461.33,380.51 461.48,382.6C461.63,384.69 461.81,386.74 462.03,388.4C462.25,390.06 462.63,390.56 462.69,391.8C462.75,393.04 462.54,394.45 462.36,395.3C462.18,396.15 461.82,396.28 461.7,396.5L457.3,396.5C457.18,396.28 456.82,396.15 456.64,395.3C456.46,394.45 456.25,393.04 456.31,391.8C456.37,390.56 456.75,390.06 456.97,388.4C457.19,386.74 457.37,384.69 457.52,382.6C457.67,380.51 457.64,378.87 457.79,376.8C457.95,374.73 458.11,373.17 458.4,371.1C458.69,369.03 459.2,368.83 459.38,365.3C459.56,361.77 459.39,353.98 459.39,351.5Z" fill="none" stroke="#4a3826" stroke-width="0.35" stroke-opacity="0.6"/>
<path d="M459.5,351.5V396.5" stroke="#2e2a26" stroke-width="0.6"/>
<rect x="458.35" y="380.3" width="2.3" height="12.7" fill="#c9ad89" stroke="#6a3f14" stroke-width="0.6"/>
<path d="M458.15,388.4H460.85" stroke="#3a2410" stroke-width="1.1"/>
<path d="M471.3,352C471.3,353.98 471.05,360.61 471.32,363C471.59,365.39 472.25,363.84 472.8,365.3C473.35,366.76 473.79,369.03 474.4,371.1C475.01,373.17 475.75,374.93 476.2,376.8C476.65,378.67 477.06,379.63 476.9,381.5C476.74,383.37 476.04,385.35 475.3,387.2C474.56,389.05 473.52,390.13 472.8,391.8C472.08,393.47 471.57,395.65 471.3,396.5L470.9,396.5C470.63,395.65 470.12,393.47 469.4,391.8C468.68,390.13 467.64,389.05 466.9,387.2C466.16,385.35 465.46,383.37 465.3,381.5C465.14,379.63 465.55,378.67 466,376.8C466.45,374.93 467.19,373.17 467.8,371.1C468.41,369.03 468.85,366.76 469.4,365.3C469.95,363.84 470.61,365.39 470.88,363C471.15,360.61 470.9,353.98 470.9,352Z" fill="#d4d2f0" stroke="#46467a" stroke-width="0.7" stroke-linejoin="round"/>
<path d="M471.21,352C471.21,353.98 471.07,360.61 471.22,363C471.37,365.39 471.73,363.84 472.04,365.3C472.34,366.76 472.58,369.03 472.92,371.1C473.25,373.17 473.66,374.93 473.91,376.8C474.15,378.67 474.38,379.63 474.29,381.5C474.2,383.37 473.82,385.35 473.41,387.2C473,389.05 472.43,390.13 472.04,391.8C471.64,393.47 471.36,395.65 471.21,396.5L470.99,396.5C470.84,395.65 470.56,393.47 470.17,391.8C469.77,390.13 469.2,389.05 468.79,387.2C468.38,385.35 468,383.37 467.91,381.5C467.82,379.63 468.05,378.67 468.3,376.8C468.54,374.93 468.95,373.17 469.29,371.1C469.62,369.03 469.86,366.76 470.17,365.3C470.47,363.84 470.83,365.39 470.98,363C471.13,360.61 470.99,353.98 470.99,352Z" fill="none" stroke="#46467a" stroke-width="0.35" stroke-opacity="0.6"/>
<path d="M471.1,352V396.5" stroke="#2c2c44" stroke-width="0.6"/>
<rect x="469.8" y="377.4" width="2.6" height="8.7" fill="#eeeefc" stroke="#3c3c8c" stroke-width="0.6"/>
<path d="M469.6,381.5H472.6" stroke="#20205a" stroke-width="1.1"/>
<path d="M495,373.4C495.31,373.81 496.21,374.24 496.7,375.7C497.19,377.16 497.65,379.43 497.7,381.5C497.75,383.57 497.39,385.13 497,387.2C496.61,389.27 496.04,391.33 495.55,393C495.06,394.67 494.53,395.87 494.3,396.5L489.3,396.5C489.07,395.87 488.54,394.67 488.05,393C487.56,391.33 486.99,389.27 486.6,387.2C486.21,385.13 485.85,383.57 485.9,381.5C485.95,379.43 486.41,377.16 486.9,375.7C487.39,374.24 488.29,373.81 488.6,373.4Z" fill="#a88a69" stroke="#4a3826" stroke-width="0.7" stroke-linejoin="round"/>
<path d="M493.56,373.4C493.73,373.81 494.23,374.24 494.5,375.7C494.76,377.16 495.02,379.43 495.05,381.5C495.07,383.57 494.87,385.13 494.66,387.2C494.45,389.27 494.13,391.33 493.86,393C493.6,394.67 493.3,395.87 493.18,396.5L490.43,396.5C490.3,395.87 490,394.67 489.74,393C489.47,391.33 489.15,389.27 488.94,387.2C488.73,385.13 488.53,383.57 488.56,381.5C488.58,379.43 488.84,377.16 489.11,375.7C489.37,374.24 489.87,373.81 490.04,373.4Z" fill="none" stroke="#4a3826" stroke-width="0.35" stroke-opacity="0.6"/>
<path d="M491.8,373.4V396.5" stroke="#2e2a26" stroke-width="0.6"/>
<rect x="490.4" y="379.2" width="2.8" height="10.3" fill="#c9ad89" stroke="#6a3f14" stroke-width="0.6"/>
<path d="M490.2,382.6H493.4" stroke="#3a2410" stroke-width="1.1"/>
<path d="M503.9,366.5C503.9,366.68 503.54,366.67 503.92,367.5C504.3,368.33 505.28,369.43 506,371.1C506.72,372.77 507.38,374.73 507.9,376.8C508.42,378.87 508.94,380.73 508.9,382.6C508.86,384.47 508.33,385.54 507.7,387.2C507.07,388.86 505.85,390.13 505.4,391.8C504.95,393.47 505.24,395.65 505.2,396.5L502.2,396.5C502.16,395.65 502.45,393.47 502,391.8C501.55,390.13 500.33,388.86 499.7,387.2C499.07,385.54 498.54,384.47 498.5,382.6C498.46,380.73 498.98,378.87 499.5,376.8C500.02,374.73 500.68,372.77 501.4,371.1C502.12,369.43 503.1,368.33 503.48,367.5C503.86,366.67 503.5,366.68 503.5,366.5Z" fill="#d4d2f0" stroke="#46467a" stroke-width="0.7" stroke-linejoin="round"/>
<path d="M503.81,366.5C503.81,366.68 503.61,366.67 503.82,367.5C504.03,368.33 504.57,369.43 504.96,371.1C505.36,372.77 505.72,374.73 506.01,376.8C506.3,378.87 506.58,380.73 506.56,382.6C506.54,384.47 506.25,385.54 505.9,387.2C505.55,388.86 504.88,390.13 504.63,391.8C504.39,393.47 504.54,395.65 504.52,396.5L502.88,396.5C502.86,395.65 503.01,393.47 502.76,391.8C502.52,390.13 501.85,388.86 501.5,387.2C501.15,385.54 500.86,384.47 500.84,382.6C500.82,380.73 501.1,378.87 501.39,376.8C501.68,374.73 502.04,372.77 502.44,371.1C502.83,369.43 503.37,368.33 503.58,367.5C503.79,366.67 503.59,366.68 503.59,366.5Z" fill="none" stroke="#46467a" stroke-width="0.35" stroke-opacity="0.6"/>
<path d="M503.7,366.5V396.5" stroke="#2c2c44" stroke-width="0.6"/>
<rect x="502.55" y="377.4" width="2.3" height="9.3" fill="#eeeefc" stroke="#3c3c8c" stroke-width="0.6"/>
<path d="M502.35,383.2H505.05" stroke="#20205a" stroke-width="1.1"/>
<path d="M339.2,433V482.6H403.0" fill="none" stroke="#2b2b2b" stroke-width="1.35"/>
<path d="M336.4,437.3H339.2M336.4,448.5H339.2M336.4,459.8H339.2M336.4,471H339.2M336.4,482.1H339.2M355.9,482.6v2.6M387.6,482.6v2.6" stroke="#2b2b2b" stroke-width="1.1"/>
<g font-size="7.1" fill="#333" text-anchor="end"><text x="332.9" y="439.5">1.00</text><text x="332.9" y="450.7">0.75</text><text x="332.9" y="462">0.50</text><text x="332.9" y="473.2">0.25</text><text x="332.9" y="484.3">0.00</text></g>
<text transform="translate(310.1,457.3) rotate(-90)" font-size="8.2" fill="#333" text-anchor="middle" textLength="69.2" lengthAdjust="spacingAndGlyphs">Monocytes (×10³/mL)</text>
<g font-size="6.8" fill="#333" text-anchor="middle"><text x="355.9" y="495.9">Cluster A</text><text x="387.6" y="495.9">Cluster B</text></g>
<path d="M350.6,449.3C350.6,451.59 350.4,459.3 350.62,462C350.84,464.7 351.32,463.06 351.8,464.3C352.28,465.54 352.72,467.24 353.3,468.9C353.88,470.56 354.44,471.93 355,473.5C355.56,475.07 356.33,476.56 356.4,477.6C356.47,478.64 355.58,478.99 355.4,479.3L345.4,479.3C345.22,478.99 344.33,478.64 344.4,477.6C344.47,476.56 345.24,475.07 345.8,473.5C346.36,471.93 346.92,470.56 347.5,468.9C348.08,467.24 348.52,465.54 349,464.3C349.48,463.06 349.96,464.7 350.18,462C350.4,459.3 350.2,451.59 350.2,449.3Z" fill="#a88a69" stroke="#4a3826" stroke-width="0.7" stroke-linejoin="round"/>
<path d="M350.51,449.3C350.51,451.59 350.4,459.3 350.52,462C350.64,464.7 350.9,463.06 351.17,464.3C351.44,465.54 351.68,467.24 351.99,468.9C352.31,470.56 352.62,471.93 352.93,473.5C353.24,475.07 353.66,476.56 353.7,477.6C353.74,478.64 353.25,478.99 353.15,479.3L347.65,479.3C347.55,478.99 347.06,478.64 347.1,477.6C347.14,476.56 347.56,475.07 347.87,473.5C348.18,471.93 348.49,470.56 348.81,468.9C349.12,467.24 349.36,465.54 349.63,464.3C349.9,463.06 350.16,464.7 350.28,462C350.4,459.3 350.29,451.59 350.29,449.3Z" fill="none" stroke="#4a3826" stroke-width="0.35" stroke-opacity="0.6"/>
<path d="M350.4,449.3V479.3" stroke="#2e2a26" stroke-width="0.6"/>
<rect x="349.25" y="472.4" width="2.3" height="5.8" fill="#c9ad89" stroke="#6a3f14" stroke-width="0.6"/>
<path d="M349.05,475.3H351.75" stroke="#3a2410" stroke-width="1.1"/>
<path d="M363.8,449.9C363.76,450.62 363.26,452.55 363.6,453.9C363.94,455.25 364.96,456.16 365.7,457.4C366.44,458.64 367.45,459.34 367.7,460.8C367.95,462.26 367.05,463.83 367.1,465.5C367.15,467.17 367.93,468.25 368,470.1C368.07,471.95 367.82,474.25 367.5,475.8C367.18,477.35 366.43,478.18 366.2,478.7L358.2,478.7C357.97,478.18 357.22,477.35 356.9,475.8C356.58,474.25 356.33,471.95 356.4,470.1C356.47,468.25 357.25,467.17 357.3,465.5C357.35,463.83 356.45,462.26 356.7,460.8C356.95,459.34 357.96,458.64 358.7,457.4C359.44,456.16 360.46,455.25 360.8,453.9C361.14,452.55 360.64,450.62 360.6,449.9Z" fill="#d4d2f0" stroke="#46467a" stroke-width="0.7" stroke-linejoin="round"/>
<path d="M363.08,449.9C363.06,450.62 362.78,452.55 362.97,453.9C363.16,455.25 363.72,456.16 364.12,457.4C364.53,458.64 365.09,459.34 365.22,460.8C365.36,462.26 364.87,463.83 364.89,465.5C364.92,467.17 365.35,468.25 365.39,470.1C365.43,471.95 365.29,474.25 365.12,475.8C364.94,477.35 364.53,478.18 364.4,478.7L360,478.7C359.87,478.18 359.46,477.35 359.28,475.8C359.11,474.25 358.97,471.95 359.01,470.1C359.05,468.25 359.48,467.17 359.5,465.5C359.53,463.83 359.04,462.26 359.18,460.8C359.31,459.34 359.87,458.64 360.27,457.4C360.68,456.16 361.24,455.25 361.43,453.9C361.62,452.55 361.34,450.62 361.32,449.9Z" fill="none" stroke="#46467a" stroke-width="0.35" stroke-opacity="0.6"/>
<path d="M362.2,449.9V478.7" stroke="#2c2c44" stroke-width="0.6"/>
<rect x="360.9" y="463.7" width="2.6" height="9.8" fill="#eeeefc" stroke="#3c3c8c" stroke-width="0.6"/>
<path d="M360.7,468.3H363.7" stroke="#20205a" stroke-width="1.1"/>
<path d="M384.6,449.3C384.67,449.93 384.62,451.34 385,452.8C385.38,454.26 386.03,455.53 386.7,457.4C387.37,459.27 388.48,461.13 388.7,463.2C388.92,465.27 388.35,466.83 387.9,468.9C387.45,470.97 386.78,472.83 386.2,474.7C385.62,476.57 384.97,478.47 384.7,479.3L380.7,479.3C380.43,478.47 379.78,476.57 379.2,474.7C378.62,472.83 377.95,470.97 377.5,468.9C377.05,466.83 376.48,465.27 376.7,463.2C376.92,461.13 378.03,459.27 378.7,457.4C379.37,455.53 380.02,454.26 380.4,452.8C380.78,451.34 380.73,449.93 380.8,449.3Z" fill="#a88a69" stroke="#4a3826" stroke-width="0.7" stroke-linejoin="round"/>
<path d="M383.75,449.3C383.78,449.93 383.76,451.34 383.96,452.8C384.17,454.26 384.53,455.53 384.9,457.4C385.27,459.27 385.88,461.13 386,463.2C386.12,465.27 385.81,466.83 385.56,468.9C385.31,470.97 384.94,472.83 384.62,474.7C384.31,476.57 383.95,478.47 383.8,479.3L381.6,479.3C381.45,478.47 381.09,476.57 380.77,474.7C380.46,472.83 380.09,470.97 379.84,468.9C379.59,466.83 379.28,465.27 379.4,463.2C379.52,461.13 380.13,459.27 380.5,457.4C380.87,455.53 381.23,454.26 381.44,452.8C381.64,451.34 381.62,449.93 381.65,449.3Z" fill="none" stroke="#4a3826" stroke-width="0.35" stroke-opacity="0.6"/>
<path d="M382.7,449.3V479.3" stroke="#2e2a26" stroke-width="0.6"/>
<rect x="381.55" y="459.1" width="2.3" height="11" fill="#c9ad89" stroke="#6a3f14" stroke-width="0.6"/>
<path d="M381.35,465.5H384.05" stroke="#3a2410" stroke-width="1.1"/>
<path d="M397.7,451C397.74,451.74 397.67,453.34 397.9,455.1C398.13,456.86 398.62,458.73 399,460.8C399.38,462.87 399.93,464.51 400,466.6C400.07,468.69 399.81,470.53 399.4,472.4C398.99,474.27 398.28,475.76 397.7,477C397.12,478.24 396.47,478.89 396.2,479.3L392.2,479.3C391.93,478.89 391.28,478.24 390.7,477C390.12,475.76 389.41,474.27 389,472.4C388.59,470.53 388.33,468.69 388.4,466.6C388.47,464.51 389.02,462.87 389.4,460.8C389.78,458.73 390.27,456.86 390.5,455.1C390.73,453.34 390.66,451.74 390.7,451Z" fill="#d4d2f0" stroke="#46467a" stroke-width="0.7" stroke-linejoin="round"/>
<path d="M396.12,451C396.14,451.74 396.11,453.34 396.23,455.1C396.36,456.86 396.63,458.73 396.84,460.8C397.05,462.87 397.35,464.51 397.39,466.6C397.43,468.69 397.29,470.53 397.06,472.4C396.83,474.27 396.44,475.76 396.12,477C395.81,478.24 395.45,478.89 395.3,479.3L393.1,479.3C392.95,478.89 392.59,478.24 392.27,477C391.96,475.76 391.57,474.27 391.34,472.4C391.11,470.53 390.97,468.69 391.01,466.6C391.05,464.51 391.35,462.87 391.56,460.8C391.77,458.73 392.04,456.86 392.17,455.1C392.29,453.34 392.26,451.74 392.27,451Z" fill="none" stroke="#46467a" stroke-width="0.35" stroke-opacity="0.6"/>
<path d="M394.2,451V479.3" stroke="#2c2c44" stroke-width="0.6"/>
<rect x="393.05" y="465.5" width="2.3" height="9.2" fill="#eeeefc" stroke="#3c3c8c" stroke-width="0.6"/>
<path d="M392.85,472.2H395.55" stroke="#20205a" stroke-width="1.1"/>
<path d="M448.1,433.2V483H512.5" fill="none" stroke="#2b2b2b" stroke-width="1.35"/>
<path d="M445.3,449.2H448.1M445.3,465.3H448.1M445.3,481.2H448.1M465.2,483v2.6M497.0,483v2.6" stroke="#2b2b2b" stroke-width="1.1"/>
<g font-size="7.1" fill="#333" text-anchor="end"><text x="441.8" y="451.4">0.4</text><text x="441.8" y="467.5">0.2</text><text x="441.8" y="483.4">0.0</text></g>
<text transform="translate(424.2,453.8) rotate(-90)" font-size="8.2" fill="#333" text-anchor="middle" textLength="78.4" lengthAdjust="spacingAndGlyphs">Eosinophils (×10³/mL)</text>
<g font-size="6.8" fill="#333" text-anchor="middle"><text x="465.2" y="496.1">Cluster A</text><text x="497.0" y="496.1">Cluster B</text></g>
<path d="M459.7,454.5C459.7,458.14 459.29,470.65 459.72,474.7C460.15,478.75 461.26,476.17 462.1,477C462.94,477.83 464.06,478.58 464.4,479.3C464.74,480.02 464.07,480.69 464,481L455,481C454.93,480.69 454.26,480.02 454.6,479.3C454.94,478.58 456.06,477.83 456.9,477C457.74,476.17 458.85,478.75 459.28,474.7C459.71,470.65 459.3,458.14 459.3,454.5Z" fill="#a88a69" stroke="#4a3826" stroke-width="0.7" stroke-linejoin="round"/>
<path d="M459.61,454.5C459.61,458.14 459.38,470.65 459.62,474.7C459.86,478.75 460.47,476.17 460.93,477C461.39,477.83 462.01,478.58 462.19,479.3C462.38,480.02 462.01,480.69 461.98,481L457.02,481C456.99,480.69 456.62,480.02 456.81,479.3C456.99,478.58 457.61,477.83 458.07,477C458.53,476.17 459.14,478.75 459.38,474.7C459.62,470.65 459.39,458.14 459.39,454.5Z" fill="none" stroke="#4a3826" stroke-width="0.35" stroke-opacity="0.6"/>
<path d="M459.5,454.5V481" stroke="#2e2a26" stroke-width="0.6"/>
<rect x="458.5" y="477.5" width="2" height="3" fill="#c9ad89" stroke="#6a3f14" stroke-width="0.6"/>
<path d="M458.3,479H460.7" stroke="#3a2410" stroke-width="1.1"/>
<path d="M471,457.4C471,460.3 470.64,470.19 471.02,473.5C471.4,476.81 472.35,474.95 473.1,475.8C473.85,476.65 474.57,477.35 475.2,478.2C475.83,479.05 476.49,480 476.6,480.5C476.71,481 475.94,480.91 475.8,481L465.8,481C465.66,480.91 464.89,481 465,480.5C465.11,480 465.77,479.05 466.4,478.2C467.03,477.35 467.75,476.65 468.5,475.8C469.25,474.95 470.2,476.81 470.58,473.5C470.96,470.19 470.6,460.3 470.6,457.4Z" fill="#d4d2f0" stroke="#46467a" stroke-width="0.7" stroke-linejoin="round"/>
<path d="M470.91,457.4C470.91,460.3 470.71,470.19 470.92,473.5C471.13,476.81 471.65,474.95 472.06,475.8C472.48,476.65 472.87,477.35 473.22,478.2C473.57,479.05 473.93,480 473.99,480.5C474.05,481 473.63,480.91 473.55,481L468.05,481C467.97,480.91 467.55,481 467.61,480.5C467.67,480 468.03,479.05 468.38,478.2C468.73,477.35 469.12,476.65 469.54,475.8C469.95,474.95 470.47,476.81 470.68,473.5C470.89,470.19 470.69,460.3 470.69,457.4Z" fill="none" stroke="#46467a" stroke-width="0.35" stroke-opacity="0.6"/>
<path d="M470.8,457.4V481" stroke="#2c2c44" stroke-width="0.6"/>
<rect x="469.65" y="477" width="2.3" height="2.3" fill="#eeeefc" stroke="#3c3c8c" stroke-width="0.6"/>
<path d="M469.45,478.2H472.15" stroke="#20205a" stroke-width="1.1"/>
<path d="M493.2,451C493.42,451.32 493.99,451.65 494.4,452.8C494.81,453.95 495.16,455.33 495.5,457.4C495.84,459.47 495.98,461.82 496.3,464.3C496.62,466.78 497.08,468.91 497.3,471.2C497.52,473.49 497.72,475.33 497.5,477C497.28,478.67 496.82,479.71 496.1,480.5C495.38,481.29 493.97,481.24 493.5,481.4L489.5,481.4C489.03,481.24 487.62,481.29 486.9,480.5C486.18,479.71 485.72,478.67 485.5,477C485.28,475.33 485.48,473.49 485.7,471.2C485.92,468.91 486.38,466.78 486.7,464.3C487.02,461.82 487.16,459.47 487.5,457.4C487.84,455.33 488.19,453.95 488.6,452.8C489.01,451.65 489.58,451.32 489.8,451Z" fill="#a88a69" stroke="#4a3826" stroke-width="0.7" stroke-linejoin="round"/>
<path d="M492.44,451C492.55,451.32 492.87,451.65 493.09,452.8C493.32,453.95 493.51,455.33 493.7,457.4C493.89,459.47 493.96,461.82 494.14,464.3C494.32,466.78 494.57,468.91 494.69,471.2C494.81,473.49 494.92,475.33 494.8,477C494.68,478.67 494.43,479.71 494.03,480.5C493.63,481.29 492.86,481.24 492.6,481.4L490.4,481.4C490.14,481.24 489.37,481.29 488.97,480.5C488.57,479.71 488.32,478.67 488.2,477C488.08,475.33 488.19,473.49 488.31,471.2C488.43,468.91 488.68,466.78 488.86,464.3C489.04,461.82 489.11,459.47 489.3,457.4C489.49,455.33 489.68,453.95 489.91,452.8C490.13,451.65 490.45,451.32 490.56,451Z" fill="none" stroke="#4a3826" stroke-width="0.35" stroke-opacity="0.6"/>
<path d="M491.5,451V481.4" stroke="#2e2a26" stroke-width="0.6"/>
<rect x="489.3" y="462.6" width="4.4" height="13.2" fill="#c9ad89" stroke="#6a3f14" stroke-width="0.6"/>
<path d="M489.1,470.7H493.9" stroke="#3a2410" stroke-width="1.1"/>
<path d="M503.5,442.4C503.5,446.34 503.3,459.94 503.52,464.3C503.74,468.66 504.27,465.36 504.7,466.6C505.13,467.84 505.38,469.54 505.9,471.2C506.42,472.86 507.08,474.34 507.6,475.8C508.12,477.26 508.67,478.36 508.8,479.3C508.93,480.24 508.39,480.69 508.3,481L498.3,481C498.21,480.69 497.67,480.24 497.8,479.3C497.93,478.36 498.48,477.26 499,475.8C499.52,474.34 500.18,472.86 500.7,471.2C501.22,469.54 501.47,467.84 501.9,466.6C502.33,465.36 502.86,468.66 503.08,464.3C503.3,459.94 503.1,446.34 503.1,442.4Z" fill="#d4d2f0" stroke="#46467a" stroke-width="0.7" stroke-linejoin="round"/>
<path d="M503.41,442.4C503.41,446.34 503.3,459.94 503.42,464.3C503.54,468.66 503.83,465.36 504.07,466.6C504.31,467.84 504.44,469.54 504.73,471.2C505.02,472.86 505.38,474.34 505.67,475.8C505.95,477.26 506.26,478.36 506.32,479.3C506.39,480.24 506.1,480.69 506.05,481L500.55,481C500.5,480.69 500.21,480.24 500.28,479.3C500.34,478.36 500.65,477.26 500.94,475.8C501.22,474.34 501.58,472.86 501.87,471.2C502.16,469.54 502.29,467.84 502.53,466.6C502.77,465.36 503.06,468.66 503.18,464.3C503.3,459.94 503.19,446.34 503.19,442.4Z" fill="none" stroke="#46467a" stroke-width="0.35" stroke-opacity="0.6"/>
<path d="M503.3,442.4V481" stroke="#2c2c44" stroke-width="0.6"/>
<rect x="502" y="474.1" width="2.6" height="5.2" fill="#eeeefc" stroke="#3c3c8c" stroke-width="0.6"/>
<path d="M501.8,478.2H504.8" stroke="#20205a" stroke-width="1.1"/>
<rect x="385" y="506.7" width="7.3" height="7.3" fill="#a88a69" stroke="#4a3826" stroke-width="0.7"/>
<rect x="430.6" y="506.7" width="7.3" height="7.3" fill="#d4d2f0" stroke="#46467a" stroke-width="0.7"/>
<text x="395.8" y="512.6" font-size="6.4" fill="#444" textLength="25" lengthAdjust="spacingAndGlyphs">Acquired</text>
<text x="441.2" y="512.6" font-size="6.4" fill="#444" textLength="24.4" lengthAdjust="spacingAndGlyphs">Inherited</text>
<text x="78.3" y="561.4" font-size="11.8" fill="#111" font-weight="bold" stroke="#111" stroke-width="0.35">C</text>
<text x="128.5" y="562.3" font-size="9" fill="#333" textLength="100.2" lengthAdjust="spacingAndGlyphs" stroke="#333" stroke-width="0.12">Training cohort (n = 359)</text>
<path d="M128.5,564H228.7" stroke="#444" stroke-width="0.75"/>
<text x="288.7" y="562.3" font-size="9" fill="#333" textLength="108.4" lengthAdjust="spacingAndGlyphs" stroke="#333" stroke-width="0.12">Validation cohort (n = 127)</text>
<path d="M288.7,564H397.1" stroke="#444" stroke-width="0.75"/>
<path d="M103.8,566.5V647.8H251.7" fill="none" stroke="#2b2b2b" stroke-width="1.35"/>
<path d="M101.2,588.6H103.8M101.2,626.3H103.8M113.5,647.8v2.6M129.58,647.8v2.6M145.66,647.8v2.6M161.74,647.8v2.6M177.82,647.8v2.6M193.9,647.8v2.6M209.98,647.8v2.6M226.06,647.8v2.6M242.14,647.8v2.6" stroke="#2b2b2b" stroke-width="1.1"/>
<text transform="translate(95.6,588.6) rotate(-90)" font-size="7" fill="#333" text-anchor="middle" textLength="28" lengthAdjust="spacingAndGlyphs">Inherited</text>
<text transform="translate(95.6,626.3) rotate(-90)" font-size="7" fill="#333" text-anchor="middle" textLength="28.5" lengthAdjust="spacingAndGlyphs">Acquired</text>
<g font-size="7" fill="#2e2e2e" text-anchor="end">
<text transform="translate(116.7,658.2) rotate(-45)">MAA</text>
<text transform="translate(132.78,658.2) rotate(-45)">SAA</text>
<text transform="translate(148.86,658.2) rotate(-45)">Cytopenias</text>
<text transform="translate(164.94,658.2) rotate(-45)">MDS/HypoMDS</text>
<text transform="translate(181.02,658.2) rotate(-45)">DC/HH</text>
<text transform="translate(197.1,658.2) rotate(-45)">DBA</text>
<text transform="translate(213.18,658.2) rotate(-45)">Fanconi anemia</text>
<text transform="translate(229.26,658.2) rotate(-45)">SDS</text>
<text transform="translate(245.34,658.2) rotate(-45)">Others</text>
</g>
<path d="M273.7,567.5V648.3H413" fill="none" stroke="#2b2b2b" stroke-width="1.35"/>
<path d="M271.1,589.1H273.7M271.1,626.5H273.7M287.3,648.3v2.6M310.54,648.3v2.6M333.78,648.3v2.6M357.02,648.3v2.6M380.26,648.3v2.6M403.5,648.3v2.6" stroke="#2b2b2b" stroke-width="1.1"/>
<text transform="translate(265.4,589.1) rotate(-90)" font-size="7" fill="#333" text-anchor="middle" textLength="28" lengthAdjust="spacingAndGlyphs">Inherited</text>
<text transform="translate(265.4,626.5) rotate(-90)" font-size="7" fill="#333" text-anchor="middle" textLength="28.5" lengthAdjust="spacingAndGlyphs">Acquired</text>
<g font-size="7" fill="#2e2e2e" text-anchor="end">
<text transform="translate(290.5,658.7) rotate(-45)">MAA</text>
<text transform="translate(313.74,658.7) rotate(-45)">SAA</text>
<text transform="translate(336.98,658.7) rotate(-45)">Cytopenias</text>
<text transform="translate(360.22,658.7) rotate(-45)">MDS/HypoMDS</text>
<text transform="translate(383.46,658.7) rotate(-45)">DC/HH</text>
<text transform="translate(406.7,658.7) rotate(-45)">SDS</text>
</g>
<g fill="#bd0f2c"><circle cx="111.2" cy="577.7" r="1.45"/><circle cx="115.1" cy="576.7" r="1.45"/><circle cx="117.9" cy="576.5" r="1.45"/><circle cx="113.6" cy="581.1" r="1.45"/><circle cx="115.5" cy="585.9" r="1.45"/><circle cx="113.1" cy="587.3" r="1.45"/><circle cx="110.3" cy="588.3" r="1.45"/><circle cx="113.6" cy="588.8" r="1.45"/><circle cx="110.7" cy="592.6" r="1.45"/><circle cx="116" cy="593.1" r="1.45"/><circle cx="117" cy="595" r="1.45"/><circle cx="114.6" cy="595.5" r="1.45"/><circle cx="109.8" cy="597.9" r="1.45"/><circle cx="112.2" cy="598.8" r="1.45"/><circle cx="114.6" cy="599.8" r="1.45"/><circle cx="113.1" cy="601.3" r="1.45"/><circle cx="128.8" cy="582" r="1.45"/><circle cx="131.4" cy="587.8" r="1.45"/><circle cx="131.7" cy="593.8" r="1.45"/><circle cx="129.8" cy="601.3" r="1.45"/><circle cx="146.8" cy="583.5" r="1.45"/><circle cx="144.9" cy="590.2" r="1.45"/><circle cx="143.9" cy="596" r="1.45"/><circle cx="143.4" cy="600.8" r="1.45"/><circle cx="144.9" cy="601.7" r="1.45"/><circle cx="145.8" cy="600.8" r="1.45"/><circle cx="163" cy="590.2" r="1.45"/><circle cx="162" cy="591.6" r="1.45"/><circle cx="161.1" cy="595" r="1.45"/><circle cx="161.7" cy="600.8" r="1.45"/><circle cx="178.8" cy="576.7" r="1.45"/><circle cx="176.9" cy="580.1" r="1.45"/><circle cx="174" cy="582.3" r="1.45"/><circle cx="177.9" cy="583" r="1.45"/><circle cx="178.8" cy="584.9" r="1.45"/><circle cx="180.8" cy="585.9" r="1.45"/><circle cx="181.7" cy="585.2" r="1.45"/><circle cx="174.5" cy="591.6" r="1.45"/><circle cx="176.9" cy="592.6" r="1.45"/><circle cx="181.7" cy="592.9" r="1.45"/><circle cx="175" cy="595" r="1.45"/><circle cx="178.8" cy="595.5" r="1.45"/><circle cx="176.9" cy="597.4" r="1.45"/><circle cx="179.8" cy="597.9" r="1.45"/><circle cx="175.5" cy="599.3" r="1.45"/><circle cx="178.4" cy="600.8" r="1.45"/><circle cx="180.8" cy="600.8" r="1.45"/><circle cx="176.4" cy="601.3" r="1.45"/><circle cx="196.2" cy="581.5" r="1.45"/><circle cx="197.1" cy="582" r="1.45"/><circle cx="207.8" cy="578.7" r="1.45"/><circle cx="207.8" cy="581.5" r="1.45"/><circle cx="213.6" cy="585.6" r="1.45"/><circle cx="214.2" cy="586.2" r="1.45"/><circle cx="211.3" cy="590.8" r="1.45"/><circle cx="212.4" cy="591.3" r="1.45"/><circle cx="207.2" cy="594.8" r="1.45"/><circle cx="214.2" cy="596" r="1.45"/><circle cx="214.7" cy="597.7" r="1.45"/><circle cx="210.7" cy="601.2" r="1.45"/><circle cx="222.8" cy="576.9" r="1.45"/><circle cx="228" cy="575.5" r="1.45"/><circle cx="227.4" cy="580.2" r="1.45"/><circle cx="228.6" cy="581" r="1.45"/><circle cx="224.5" cy="596" r="1.45"/><circle cx="230.3" cy="594.8" r="1.45"/><circle cx="245.9" cy="585.6" r="1.45"/><circle cx="246.2" cy="590.8" r="1.45"/><circle cx="142.5" cy="615.1" r="1.45"/><circle cx="146.3" cy="620.4" r="1.45"/><circle cx="149.2" cy="626.2" r="1.45"/><circle cx="143.4" cy="632" r="1.45"/><circle cx="142.5" cy="632.9" r="1.45"/><circle cx="150.5" cy="626.2" r="1.45"/><circle cx="160.6" cy="615.1" r="1.45"/><circle cx="163.9" cy="620.4" r="1.45"/><circle cx="161.1" cy="623.3" r="1.45"/><circle cx="159.6" cy="624.8" r="1.45"/><circle cx="158.5" cy="626.2" r="1.45"/><circle cx="165.9" cy="631" r="1.45"/><circle cx="165.2" cy="632.9" r="1.45"/><circle cx="162" cy="636.3" r="1.45"/><circle cx="178.1" cy="638.5" r="1.45"/><circle cx="112.35" cy="616.65" r="1.45"/><circle cx="110.14" cy="627.24" r="1.45"/><circle cx="109.83" cy="624.43" r="1.45"/><circle cx="116.78" cy="615.9" r="1.45"/><circle cx="115.02" cy="638.56" r="1.45"/><circle cx="112.99" cy="639.35" r="1.45"/><circle cx="117.05" cy="620.46" r="1.45"/><circle cx="110.54" cy="620.98" r="1.45"/><circle cx="115.12" cy="622.74" r="1.45"/><circle cx="110.05" cy="614.14" r="1.45"/><circle cx="112.26" cy="628.6" r="1.45"/><circle cx="112.14" cy="634.35" r="1.45"/><circle cx="114.12" cy="636.57" r="1.45"/><circle cx="113.8" cy="613.58" r="1.45"/><circle cx="116.23" cy="628.26" r="1.45"/><circle cx="112.26" cy="631.62" r="1.45"/><circle cx="114.6" cy="625.05" r="1.45"/><circle cx="117.81" cy="625.54" r="1.45"/><circle cx="110.03" cy="631.79" r="1.45"/><circle cx="118.24" cy="635.1" r="1.45"/><circle cx="116.71" cy="636.26" r="1.45"/><circle cx="113.15" cy="622.37" r="1.45"/><circle cx="111.05" cy="618.88" r="1.45"/><circle cx="111.81" cy="612.61" r="1.45"/><circle cx="117.89" cy="631.49" r="1.45"/><circle cx="114.93" cy="631.1" r="1.45"/><circle cx="109.5" cy="616.66" r="1.45"/><circle cx="109.7" cy="638.65" r="1.45"/><circle cx="116.01" cy="618.74" r="1.45"/><circle cx="117.75" cy="639.67" r="1.45"/><circle cx="116.38" cy="633.13" r="1.45"/><circle cx="118.05" cy="623.39" r="1.45"/><circle cx="114.33" cy="616.1" r="1.45"/><circle cx="111.78" cy="624.02" r="1.45"/><circle cx="114.06" cy="627.77" r="1.45"/><circle cx="114.44" cy="633.4" r="1.45"/><circle cx="118.01" cy="618.54" r="1.45"/><circle cx="115.85" cy="613.04" r="1.45"/><circle cx="112.05" cy="626.25" r="1.45"/><circle cx="118.06" cy="627.54" r="1.45"/><circle cx="113.92" cy="618.03" r="1.45"/><circle cx="113.46" cy="619.89" r="1.45"/><circle cx="118.11" cy="612.62" r="1.45"/><circle cx="109.75" cy="629.27" r="1.45"/><circle cx="109.83" cy="633.8" r="1.45"/><circle cx="131.47" cy="622.64" r="1.45"/><circle cx="132.99" cy="634.13" r="1.45"/><circle cx="130.62" cy="619.6" r="1.45"/><circle cx="128.25" cy="624.1" r="1.45"/><circle cx="131.34" cy="638.18" r="1.45"/><circle cx="126" cy="628.11" r="1.45"/><circle cx="125.86" cy="615.77" r="1.45"/><circle cx="132.87" cy="628.32" r="1.45"/><circle cx="133.86" cy="624.78" r="1.45"/><circle cx="125.63" cy="623.15" r="1.45"/><circle cx="129.25" cy="615.31" r="1.45"/><circle cx="131.37" cy="618.34" r="1.45"/><circle cx="126.88" cy="612.93" r="1.45"/><circle cx="125.54" cy="631.3" r="1.45"/><circle cx="126.61" cy="639.07" r="1.45"/><circle cx="126.3" cy="636.41" r="1.45"/><circle cx="125.96" cy="633.79" r="1.45"/><circle cx="131.99" cy="636.03" r="1.45"/><circle cx="132.14" cy="614.82" r="1.45"/><circle cx="131.22" cy="632" r="1.45"/><circle cx="129.69" cy="638.14" r="1.45"/><circle cx="132.03" cy="612.81" r="1.45"/><circle cx="128.33" cy="632.56" r="1.45"/><circle cx="128.84" cy="628.31" r="1.45"/><circle cx="129.49" cy="631.11" r="1.45"/><circle cx="129.01" cy="634.12" r="1.45"/><circle cx="134.39" cy="635.36" r="1.45"/><circle cx="130.97" cy="620.99" r="1.45"/><circle cx="132.85" cy="620.29" r="1.45"/><circle cx="125.52" cy="619.73" r="1.45"/><circle cx="130.54" cy="634.43" r="1.45"/><circle cx="133.98" cy="618.94" r="1.45"/><circle cx="129.73" cy="618.18" r="1.45"/><circle cx="133.55" cy="626.85" r="1.45"/><circle cx="127.22" cy="617.79" r="1.45"/><circle cx="127.14" cy="631.78" r="1.45"/><circle cx="129.16" cy="626.72" r="1.45"/><circle cx="134.57" cy="622.79" r="1.45"/><circle cx="126.47" cy="629.9" r="1.45"/><circle cx="132.66" cy="616.79" r="1.45"/><circle cx="130.23" cy="613.07" r="1.45"/><circle cx="132.95" cy="639" r="1.45"/><circle cx="130.57" cy="636.44" r="1.45"/><circle cx="133.78" cy="614.27" r="1.45"/><circle cx="134.29" cy="639.77" r="1.45"/><circle cx="127.83" cy="622.18" r="1.45"/><circle cx="133.72" cy="637.38" r="1.45"/><circle cx="132.66" cy="632.01" r="1.45"/><circle cx="131.38" cy="639.6" r="1.45"/><circle cx="126.46" cy="621.41" r="1.45"/><circle cx="127.84" cy="615.91" r="1.45"/><circle cx="126.77" cy="624.8" r="1.45"/><circle cx="133.16" cy="629.78" r="1.45"/><circle cx="129.62" cy="621.84" r="1.45"/><circle cx="131.22" cy="616.43" r="1.45"/><circle cx="126.92" cy="619.96" r="1.45"/><circle cx="133.14" cy="621.7" r="1.45"/><circle cx="128.39" cy="637.34" r="1.45"/><circle cx="128.81" cy="639.75" r="1.45"/><circle cx="134.41" cy="612.94" r="1.45"/><circle cx="131.04" cy="626.13" r="1.45"/><circle cx="127.34" cy="614.31" r="1.45"/><circle cx="128.84" cy="617" r="1.45"/><circle cx="127.78" cy="634.97" r="1.45"/><circle cx="130.23" cy="624.43" r="1.45"/><circle cx="128.28" cy="630.31" r="1.45"/><circle cx="128.12" cy="619.19" r="1.45"/><circle cx="130.69" cy="630.38" r="1.45"/><circle cx="127.52" cy="626.59" r="1.45"/><circle cx="134.23" cy="632.81" r="1.45"/><circle cx="132.41" cy="625.57" r="1.45"/><circle cx="133.82" cy="616" r="1.45"/><circle cx="125.6" cy="613.8" r="1.45"/><circle cx="131.23" cy="629.09" r="1.45"/><circle cx="129.5" cy="629.55" r="1.45"/><circle cx="134.34" cy="620.49" r="1.45"/><circle cx="129.53" cy="635.5" r="1.45"/><circle cx="128.68" cy="612.53" r="1.45"/><circle cx="134.42" cy="628" r="1.45"/><circle cx="125.75" cy="617.69" r="1.45"/><circle cx="131.94" cy="624.21" r="1.45"/><circle cx="133.19" cy="623.32" r="1.45"/><circle cx="134.04" cy="631.24" r="1.45"/><circle cx="126.05" cy="626.3" r="1.45"/><circle cx="130.45" cy="627.59" r="1.45"/><circle cx="129.17" cy="620.27" r="1.45"/><circle cx="127.45" cy="628.6" r="1.45"/><circle cx="129.45" cy="623.25" r="1.45"/><circle cx="129.89" cy="632.61" r="1.45"/><circle cx="131.76" cy="633.45" r="1.45"/></g>
<g fill="#16445a"><circle cx="110.7" cy="583.9" r="1.45"/><circle cx="143.4" cy="583" r="1.45"/><circle cx="145.2" cy="584.4" r="1.45"/><circle cx="147.3" cy="593.6" r="1.45"/><circle cx="150" cy="598.8" r="1.45"/><circle cx="194.2" cy="577.2" r="1.45"/><circle cx="190.4" cy="581.5" r="1.45"/><circle cx="190.4" cy="585.4" r="1.45"/><circle cx="191.3" cy="592.6" r="1.45"/><circle cx="193.3" cy="596.4" r="1.45"/><circle cx="197.6" cy="597.9" r="1.45"/><circle cx="197.6" cy="601.3" r="1.45"/><circle cx="209.5" cy="577.5" r="1.45"/><circle cx="210.7" cy="578.1" r="1.45"/><circle cx="214.2" cy="577.5" r="1.45"/><circle cx="209" cy="582.7" r="1.45"/><circle cx="207.2" cy="584.4" r="1.45"/><circle cx="206.7" cy="586.2" r="1.45"/><circle cx="213" cy="593.7" r="1.45"/><circle cx="210.1" cy="594.8" r="1.45"/><circle cx="222.8" cy="581.8" r="1.45"/><circle cx="225.1" cy="587.9" r="1.45"/><circle cx="222.2" cy="593.7" r="1.45"/><circle cx="222.8" cy="596.5" r="1.45"/><circle cx="225.1" cy="598.3" r="1.45"/><circle cx="238.4" cy="588.5" r="1.45"/><circle cx="240.7" cy="601.2" r="1.45"/><circle cx="149.2" cy="619.5" r="1.45"/><circle cx="143.4" cy="625.2" r="1.45"/><circle cx="146.3" cy="628.1" r="1.45"/><circle cx="142.5" cy="629.1" r="1.45"/><circle cx="147.3" cy="630" r="1.45"/><circle cx="144.4" cy="634.8" r="1.45"/><circle cx="147.3" cy="635.8" r="1.45"/><circle cx="149.2" cy="637.7" r="1.45"/><circle cx="150.5" cy="620.4" r="1.45"/><circle cx="150.5" cy="637.7" r="1.45"/><circle cx="161.5" cy="617.1" r="1.45"/><circle cx="181.5" cy="622.3" r="1.45"/><circle cx="182.5" cy="623.3" r="1.45"/><circle cx="182.5" cy="631.5" r="1.45"/><circle cx="190.3" cy="623.7" r="1.45"/><circle cx="197.1" cy="620.6" r="1.45"/><circle cx="226.7" cy="620.8" r="1.45"/><circle cx="239.2" cy="625.2" r="1.45"/><circle cx="110.58" cy="635.85" r="1.45"/></g>
<g fill="#5a1840"><circle cx="144.4" cy="622.8" r="1.45"/></g>
<g fill="#bd0f2c"><circle cx="286.9" cy="579" r="1.45"/><circle cx="285" cy="583.8" r="1.45"/><circle cx="290.4" cy="583.8" r="1.45"/><circle cx="282.1" cy="591.7" r="1.45"/><circle cx="292.5" cy="589.6" r="1.45"/><circle cx="291.1" cy="591.7" r="1.45"/><circle cx="285" cy="597.7" r="1.45"/><circle cx="283" cy="600" r="1.45"/><circle cx="284.3" cy="598.6" r="1.45"/><circle cx="316.1" cy="588.2" r="1.45"/><circle cx="316.7" cy="599.8" r="1.45"/><circle cx="333.3" cy="592.5" r="1.45"/><circle cx="357.9" cy="580" r="1.45"/><circle cx="352.7" cy="587.8" r="1.45"/><circle cx="358.7" cy="587.3" r="1.45"/><circle cx="356.2" cy="598.2" r="1.45"/><circle cx="377.8" cy="577.8" r="1.45"/><circle cx="380" cy="577.8" r="1.45"/><circle cx="383.8" cy="577.3" r="1.45"/><circle cx="376.6" cy="589.9" r="1.45"/><circle cx="382.1" cy="593.4" r="1.45"/><circle cx="384.7" cy="592.5" r="1.45"/><circle cx="385.9" cy="595.6" r="1.45"/><circle cx="378.7" cy="596" r="1.45"/><circle cx="383.8" cy="596.8" r="1.45"/><circle cx="380" cy="599.8" r="1.45"/><circle cx="383" cy="602" r="1.45"/><circle cx="336.2" cy="623.3" r="1.45"/><circle cx="328.5" cy="634" r="1.45"/><circle cx="361.3" cy="616" r="1.45"/><circle cx="357.9" cy="620.7" r="1.45"/><circle cx="351.8" cy="624.2" r="1.45"/><circle cx="357" cy="625.4" r="1.45"/><circle cx="358.7" cy="624.2" r="1.45"/><circle cx="363.4" cy="629.4" r="1.45"/><circle cx="358.7" cy="636.8" r="1.45"/><circle cx="357.5" cy="638.5" r="1.45"/><circle cx="384.7" cy="613.8" r="1.45"/><circle cx="283.81" cy="616.96" r="1.45"/><circle cx="282.65" cy="618.69" r="1.45"/><circle cx="288.42" cy="616.38" r="1.45"/><circle cx="291.88" cy="615.23" r="1.45"/><circle cx="292.46" cy="618.69" r="1.45"/><circle cx="288.42" cy="618.69" r="1.45"/><circle cx="282.08" cy="622.15" r="1.45"/><circle cx="283.23" cy="623.31" r="1.45"/><circle cx="282.08" cy="624.46" r="1.45"/><circle cx="287.85" cy="624.46" r="1.45"/><circle cx="290.15" cy="623.88" r="1.45"/><circle cx="290.73" cy="626.19" r="1.45"/><circle cx="281.5" cy="627.92" r="1.45"/><circle cx="284.38" cy="627.92" r="1.45"/><circle cx="286.69" cy="626.77" r="1.45"/><circle cx="288.42" cy="627.35" r="1.45"/><circle cx="291.88" cy="629.65" r="1.45"/><circle cx="284.96" cy="636.58" r="1.45"/><circle cx="284.61" cy="639.46" r="1.45"/><circle cx="291.88" cy="637.73" r="1.45"/><circle cx="285.54" cy="632.54" r="1.45"/><circle cx="291.31" cy="633.69" r="1.45"/><circle cx="280.92" cy="629.08" r="1.45"/><circle cx="307.28" cy="616.28" r="1.45"/><circle cx="311.77" cy="616.56" r="1.45"/><circle cx="310.12" cy="639.68" r="1.45"/><circle cx="310.28" cy="618.55" r="1.45"/><circle cx="312.57" cy="636.2" r="1.45"/><circle cx="308.95" cy="614.41" r="1.45"/><circle cx="313.6" cy="630.63" r="1.45"/><circle cx="315.32" cy="617.05" r="1.45"/><circle cx="306.96" cy="630.47" r="1.45"/><circle cx="316.8" cy="621.05" r="1.45"/><circle cx="308.69" cy="636.99" r="1.45"/><circle cx="312.08" cy="638.4" r="1.45"/><circle cx="314.39" cy="627.98" r="1.45"/><circle cx="309.24" cy="623.87" r="1.45"/><circle cx="315.56" cy="633.24" r="1.45"/><circle cx="316.65" cy="629.6" r="1.45"/><circle cx="316.34" cy="614.99" r="1.45"/><circle cx="313.23" cy="618.91" r="1.45"/><circle cx="316.43" cy="639.75" r="1.45"/><circle cx="317.37" cy="634.63" r="1.45"/><circle cx="313.71" cy="615.98" r="1.45"/><circle cx="313.81" cy="623.31" r="1.45"/><circle cx="311.83" cy="629.81" r="1.45"/><circle cx="305.48" cy="626.23" r="1.45"/><circle cx="306.16" cy="635.69" r="1.45"/><circle cx="307.32" cy="622.06" r="1.45"/><circle cx="308.87" cy="627.35" r="1.45"/><circle cx="305.36" cy="617.29" r="1.45"/><circle cx="305.12" cy="631.77" r="1.45"/><circle cx="308.86" cy="633.44" r="1.45"/><circle cx="312.01" cy="633.19" r="1.45"/><circle cx="317.25" cy="636.79" r="1.45"/><circle cx="314.56" cy="621.03" r="1.45"/><circle cx="305.04" cy="638.27" r="1.45"/><circle cx="305.52" cy="622.87" r="1.45"/><circle cx="306.02" cy="628.2" r="1.45"/><circle cx="310.68" cy="636.72" r="1.45"/><circle cx="312.23" cy="620.85" r="1.45"/></g>
<g fill="#16445a"><circle cx="284.4" cy="589.8" r="1.45"/><circle cx="336.2" cy="586.4" r="1.45"/><circle cx="336.2" cy="592.8" r="1.45"/><circle cx="353" cy="597.2" r="1.45"/><circle cx="359.6" cy="597.2" r="1.45"/><circle cx="382.5" cy="587.3" r="1.45"/><circle cx="328.1" cy="618.1" r="1.45"/><circle cx="332.8" cy="632.3" r="1.45"/><circle cx="338" cy="639.2" r="1.45"/><circle cx="358.2" cy="617.2" r="1.45"/><circle cx="403.7" cy="615.5" r="1.45"/><circle cx="305.49" cy="615.24" r="1.45"/><circle cx="317.16" cy="624.16" r="1.45"/></g>
<g fill="#5a1840"><circle cx="335.4" cy="618.5" r="1.45"/><circle cx="337.1" cy="620.7" r="1.45"/><circle cx="384.7" cy="628.5" r="1.45"/><circle cx="385.6" cy="631.1" r="1.45"/></g>
<text x="421.5" y="587.9" font-size="6.5" fill="#444" textLength="19.7" lengthAdjust="spacingAndGlyphs">Cluster</text>
<circle cx="425.9" cy="595.6" r="2.1" fill="#bd0f2c"/>
<circle cx="425.9" cy="605.3" r="2.1" fill="#16445a"/>
<text x="433" y="598" font-size="6.5" fill="#444">A</text>
<text x="433" y="607.7" font-size="6.5" fill="#444">B</text></g></svg>
</body></html>
